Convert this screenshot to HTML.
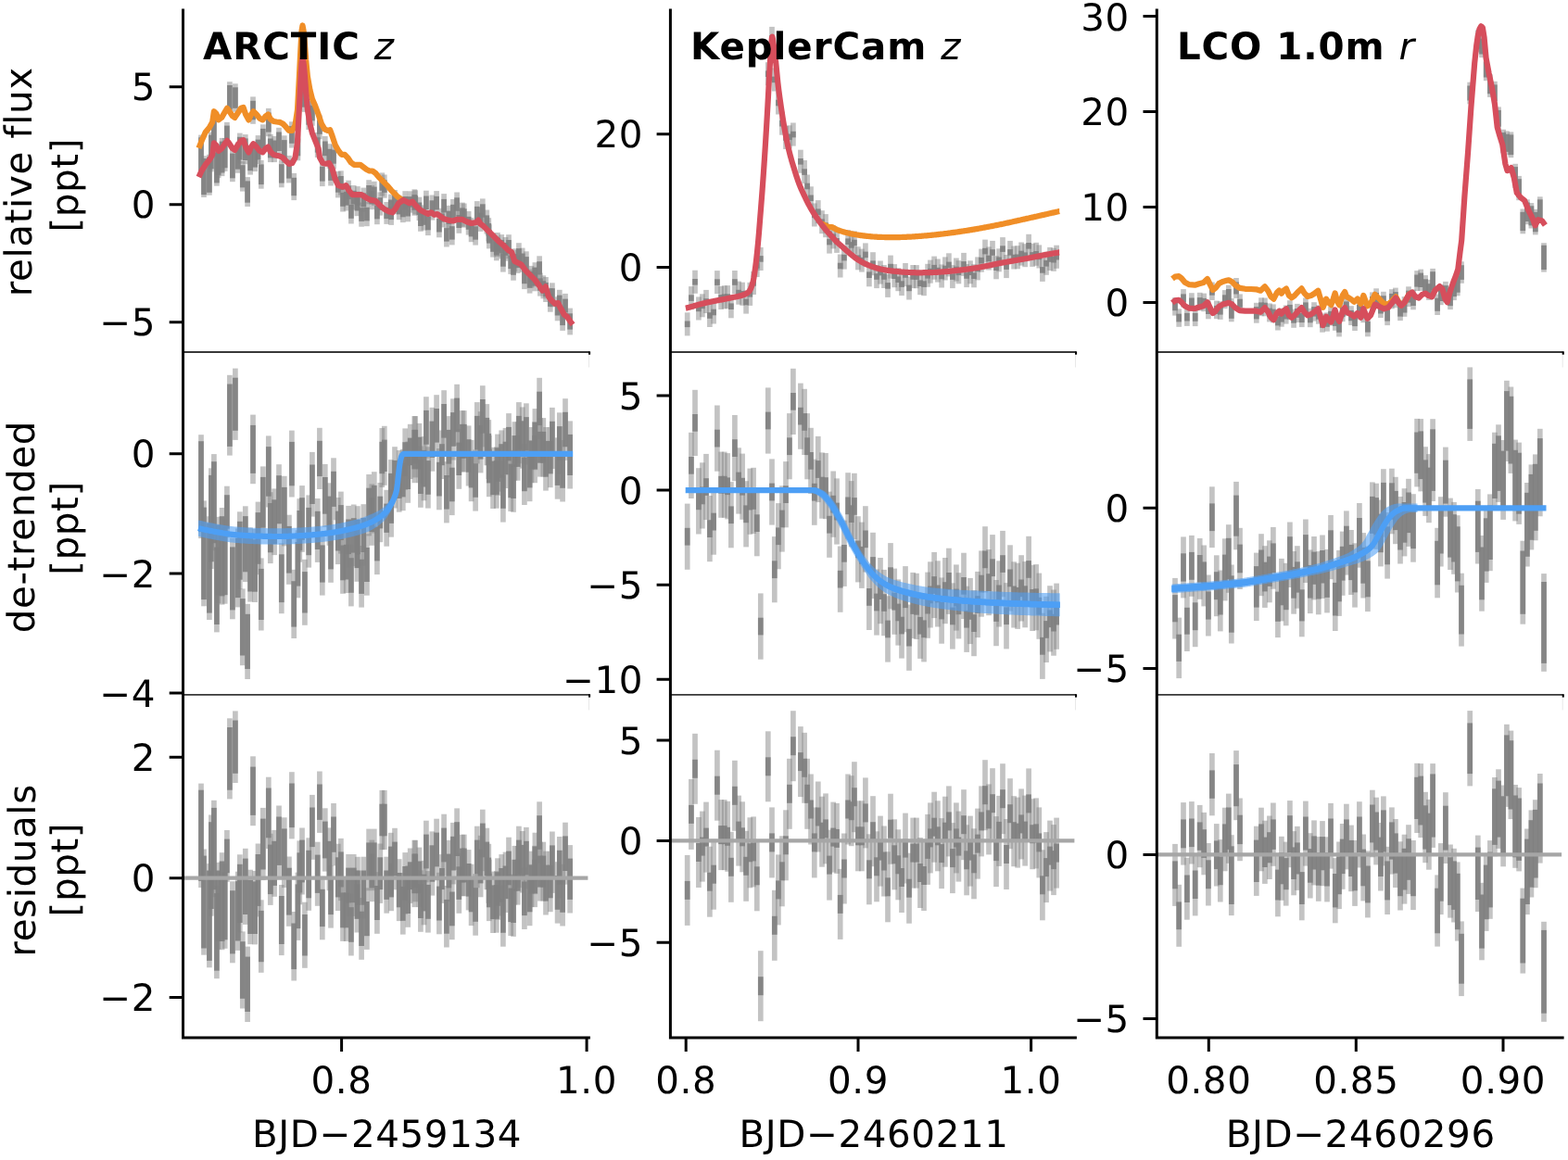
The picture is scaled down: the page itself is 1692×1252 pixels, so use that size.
<!DOCTYPE html>
<html lang="en"><head><meta charset="utf-8"><title>Light curves</title>
<style>html,body{margin:0;padding:0;background:#fff}svg{display:block}text{font-family:"DejaVu Sans","Liberation Sans",sans-serif;font-size:40.4px;fill:#000;font-variant-ligatures:none;font-feature-settings:"liga" 0,"clig" 0;text-rendering:geometricPrecision;letter-spacing:0.6px}.b{font-weight:bold}.i{font-style:italic}.sp{stroke:#000;stroke-width:3;fill:none;stroke-linecap:butt}.th{stroke:#383838;stroke-width:1.8;fill:none}.lt path{stroke:#808080;stroke-opacity:.47;stroke-width:5.7;fill:none}.dk path{stroke:#808080;stroke-opacity:.92;stroke-width:5.7;fill:none}.zl{stroke:#a6a6a6;stroke-width:4.3;fill:none}.rd{stroke:#d64e5c;stroke-width:6.2;fill:none;stroke-linejoin:round;stroke-linecap:butt}.or{stroke:#f08e27;stroke-width:6.2;fill:none;stroke-linejoin:round;stroke-linecap:butt}.bl{stroke:#4d9ff5;stroke-width:6.2;fill:none;stroke-linejoin:round;stroke-linecap:butt}.bd{fill:#4d9ff5;fill-opacity:.58;stroke:none}.bo{fill:#4d9ff5;stroke:none}</style></head><body>
<svg width="1692" height="1252" viewBox="0 0 1692 1252">
<rect width="1692" height="1252" fill="#fff"/>
<g>
<g class="lt"><path d="M217 145.6V189.6"/><path d="M220 168.2V213"/><path d="M225.9 166.7V210.7"/><path d="M227.9 142.6V185.4"/><path d="M230.9 121.5V162.5"/><path d="M233.9 161.2V200.7"/><path d="M235.6 155.4V192.2"/><path d="M239.6 148.9V190.1"/><path d="M242.7 149V184.9"/><path d="M244.9 131.9V153.8"/><path d="M247.9 88.2V122.3"/><path d="M250.9 161.7V196.2"/><path d="M253.9 90.3V120.8"/><path d="M256.8 153.4V186.8"/><path d="M258.8 143.6V176.7"/><path d="M261.8 174V206.6"/><path d="M264.8 145.1V177.3"/><path d="M267.1 191.1V223"/><path d="M270.1 157V188.6"/><path d="M273 104.4V133.8"/><path d="M275.1 153.9V185.1"/><path d="M278.5 146.1V177.1"/><path d="M281.8 172.9V203.7"/><path d="M283.8 134.3V165"/><path d="M289.8 116.9V147.2"/><path d="M291.8 144.8V175.1"/><path d="M296.1 146.9V175.1"/><path d="M301 137.8V167.7"/><path d="M303.8 172.5V202.3"/><path d="M306.8 146.3V176.1"/><path d="M311.9 167.9V197.4"/><path d="M314.9 131.3V159.6"/><path d="M317.2 186.9V216.1"/><path d="M321.4 144.5V173.3"/><path d="M323.3 93.3V120.3"/><path d="M326 44.3V72.5"/><path d="M328.9 93V120.9"/><path d="M333.2 109.2V140"/><path d="M336.9 108.3V135.8"/><path d="M342.7 142.9V170"/><path d="M344.9 124.3V150.3"/><path d="M347.8 174.2V201.1"/><path d="M350.8 147V173.7"/><path d="M355.4 155.2V181.8"/><path d="M357 174V200.5"/><path d="M360 155.9V182.4"/><path d="M364.8 185V213.4"/><path d="M367.9 184.3V210.6"/><path d="M370 202.2V228.5"/><path d="M373.7 201.1V227.5"/><path d="M376.1 194.7V221"/><path d="M378.9 215.3V241.5"/><path d="M381.7 200V226.3"/><path d="M385.4 207V233.2"/><path d="M385.9 201.1V227.4"/><path d="M390.1 218.5V244.7"/><path d="M392.3 202.6V228.7"/><path d="M395.9 218V244.2"/><path d="M398.1 194.2V220.3"/><path d="M401.3 200V226.2"/><path d="M403.8 195.8V221.9"/><path d="M406.9 216.1V242.2"/><path d="M410.3 207.4V232.6"/><path d="M412.3 186.4V211.6"/><path d="M414.8 188.5V213.7"/><path d="M417.2 218V241.9"/><path d="M421.8 209.7V235.8"/><path d="M422.1 216.8V242.9"/><path d="M426 205V231.2"/><path d="M430.7 210.9V237.2"/><path d="M434.8 214V240.1"/><path d="M437.2 206.2V232.3"/><path d="M440.2 213.2V239.3"/><path d="M442.7 206.3V229.6"/><path d="M447.3 204.3V232.7"/><path d="M448.2 205.3V231.5"/><path d="M452.4 212.7V238"/><path d="M453.9 223.7V249.8"/><path d="M457.5 221.4V248.6"/><path d="M459.9 205.7V231.8"/><path d="M461.9 228V254.1"/><path d="M466.4 210.5V237.6"/><path d="M471.1 206.1V232.2"/><path d="M473.9 230.2V256.3"/><path d="M476.9 224.7V245.4"/><path d="M479.1 209.1V235.2"/><path d="M481.9 240.4V266.5"/><path d="M484.4 221.8V247.8"/><path d="M487.8 238.4V264.4"/><path d="M488.9 214.9V241"/><path d="M493.1 207.5V233.5"/><path d="M495.3 226.2V251.8"/><path d="M498.9 218.6V244.7"/><path d="M500.8 219.5V245.6"/><path d="M505.6 228V253.6"/><path d="M508.6 235.1V261.2"/><path d="M513.1 238.5V264.6"/><path d="M514.8 217.1V243.1"/><path d="M518.6 223.8V249.9"/><path d="M520.8 214.4V240.5"/><path d="M525.3 226.5V252.6"/><path d="M527.3 235.2V260.4"/><path d="M527.8 242.4V268.4"/><path d="M532 251.6V277.6"/><path d="M535.8 255.3V281.3"/><path d="M537 251V277"/><path d="M541.2 253.1V279.2"/><path d="M542.9 267.5V293.6"/><path d="M545.5 256V281.7"/><path d="M549 253.2V279.2"/><path d="M551.2 269.9V295.9"/><path d="M554 276.6V302.7"/><path d="M555.4 268.3V293.3"/><path d="M558.7 269.9V294.9"/><path d="M559.9 262.2V288.3"/><path d="M563.7 267.6V293.7"/><path d="M565.9 286V312.1"/><path d="M567.9 271.3V297.3"/><path d="M571.6 290.6V316.6"/><path d="M573.4 286.9V310.6"/><path d="M577.1 288.2V314.3"/><path d="M577.4 283.2V309.2"/><path d="M582.1 276.3V302.4"/><path d="M582.9 294.6V319.6"/><path d="M586.3 297.3V322.3"/><path d="M589 299V326"/><path d="M593.8 311.1V336.7"/><path d="M595.9 305.3V331.4"/><path d="M601.6 320.3V346.3"/><path d="M603.8 312.8V338.9"/><path d="M607.1 330.7V356.9"/><path d="M610 316.9V343.2"/><path d="M615.1 332.6V361.4"/></g>
<g class="dk"><path d="M217 148.3V186.9"/><path d="M220 171V210.2"/><path d="M225.9 169.6V207.8"/><path d="M227.9 145.6V182.4"/><path d="M230.9 124.7V159.4"/><path d="M233.9 164.5V197.4"/><path d="M235.6 158.8V188.8"/><path d="M239.6 152.6V186.5"/><path d="M242.7 152.7V181.2"/><path d="M244.9 135.6V150"/><path d="M247.9 92V118.5"/><path d="M250.9 165.6V192.3"/><path d="M253.9 94.3V116.8"/><path d="M256.8 157.4V182.7"/><path d="M258.8 147.8V172.5"/><path d="M261.8 178.2V202.4"/><path d="M264.8 149.4V173"/><path d="M267.1 195.4V218.7"/><path d="M270.1 161.4V184.2"/><path d="M273 108.8V129.3"/><path d="M275.1 158.4V180.6"/><path d="M278.5 150.6V172.5"/><path d="M281.8 177.4V199.1"/><path d="M283.8 138.9V160.4"/><path d="M289.8 121.5V142.6"/><path d="M291.8 149.5V170.4"/><path d="M296.1 151.5V170.4"/><path d="M301 142.5V163"/><path d="M303.8 177.2V197.6"/><path d="M306.8 151.1V171.3"/><path d="M311.9 172.7V192.6"/><path d="M314.9 136.1V154.8"/><path d="M317.2 191.8V211.2"/><path d="M321.4 149.5V168.3"/><path d="M323.3 98.3V115.2"/><path d="M326 49.4V67.4"/><path d="M328.9 98.2V115.7"/><path d="M333.2 114.5V134.7"/><path d="M336.9 113.7V130.4"/><path d="M342.7 148.3V164.6"/><path d="M344.9 129.8V144.8"/><path d="M347.8 179.8V195.6"/><path d="M350.8 152.5V168.2"/><path d="M355.4 160.8V176.1"/><path d="M357 179.7V194.9"/><path d="M360 161.6V176.7"/><path d="M364.8 190.8V207.7"/><path d="M367.9 190V204.9"/><path d="M370 207.9V222.8"/><path d="M373.7 206.9V221.7"/><path d="M376.1 200.4V215.3"/><path d="M378.9 221V235.8"/><path d="M381.7 205.8V220.5"/><path d="M385.4 212.7V227.4"/><path d="M385.9 206.9V221.6"/><path d="M390.1 224.3V238.9"/><path d="M392.3 208.4V223"/><path d="M395.9 223.8V238.4"/><path d="M398.1 200V214.5"/><path d="M401.3 205.9V220.4"/><path d="M403.8 201.6V216.1"/><path d="M406.9 221.9V236.4"/><path d="M410.3 213.2V226.8"/><path d="M412.3 192.2V205.8"/><path d="M414.8 194.3V207.9"/><path d="M417.2 223.8V236.1"/><path d="M421.8 215.5V230"/><path d="M422.1 222.6V237.1"/><path d="M426 210.9V225.3"/><path d="M430.7 216.7V231.4"/><path d="M434.8 219.8V234.3"/><path d="M437.2 212V226.5"/><path d="M440.2 219V233.5"/><path d="M442.7 212.1V223.7"/><path d="M447.3 210.1V226.8"/><path d="M448.2 211.2V225.6"/><path d="M452.4 218.5V232.1"/><path d="M453.9 229.5V244"/><path d="M457.5 227.2V242.8"/><path d="M459.9 211.5V226"/><path d="M461.9 233.8V248.3"/><path d="M466.4 216.3V231.8"/><path d="M471.1 211.9V226.4"/><path d="M473.9 236V250.5"/><path d="M476.9 230.6V239.6"/><path d="M479.1 214.9V229.4"/><path d="M481.9 246.2V260.6"/><path d="M484.4 227.6V242"/><path d="M487.8 244.2V258.6"/><path d="M488.9 220.8V235.2"/><path d="M493.1 213.3V227.7"/><path d="M495.3 232V246"/><path d="M498.9 224.4V238.8"/><path d="M500.8 225.3V239.8"/><path d="M505.6 233.8V247.8"/><path d="M508.6 241V255.4"/><path d="M513.1 244.3V258.7"/><path d="M514.8 222.9V237.3"/><path d="M518.6 229.7V244.1"/><path d="M520.8 220.3V234.7"/><path d="M525.3 232.4V246.8"/><path d="M527.3 241V254.6"/><path d="M527.8 248.2V262.6"/><path d="M532 257.4V271.8"/><path d="M535.8 261.1V275.5"/><path d="M537 256.8V271.2"/><path d="M541.2 258.9V273.3"/><path d="M542.9 273.3V287.7"/><path d="M545.5 261.9V275.8"/><path d="M549 259V273.4"/><path d="M551.2 275.7V290.1"/><path d="M554 282.5V296.8"/><path d="M555.4 274.1V287.4"/><path d="M558.7 275.8V289.1"/><path d="M559.9 268.1V282.4"/><path d="M563.7 273.5V287.8"/><path d="M565.9 291.9V306.2"/><path d="M567.9 277.1V291.5"/><path d="M571.6 296.4V310.8"/><path d="M573.4 292.8V304.8"/><path d="M577.1 294.1V308.4"/><path d="M577.4 289V303.4"/><path d="M582.1 282.2V296.5"/><path d="M582.9 300.4V313.8"/><path d="M586.3 303.2V316.5"/><path d="M589 304.9V320.1"/><path d="M593.8 316.9V330.9"/><path d="M595.9 311.2V325.5"/><path d="M601.6 326.1V340.5"/><path d="M603.8 318.6V333.1"/><path d="M607.1 336.5V351.1"/><path d="M610 322.6V337.4"/><path d="M615.1 338.3V355.6"/></g>
<path class="or" d="M214.5 159.9L218.4 150.2L221.7 142.7L225.9 137.7L229.2 131.9L230.9 120.2L233.4 122.7L235.9 129.4L239.2 126.9L242.6 121L245.1 116.8L247.6 120.2L250.9 125.2L253.4 126.9L256.8 121.8L260.1 116.8L262.6 116L265.1 123.5L268.4 129.4L271 123.5L273.5 120.2L276.8 123.5L280.1 127.7L283.5 129.4L286.8 125.2L289.3 123.5L291.8 128.5L295.2 131L298.5 131.5L301.8 131.9L305.2 133.5L308.5 136.9L311.9 141L315.2 141L318.5 135.2L321 118.5L322.7 86.8L324.4 53.4L325.5 33.4L326.5 27.5L327.6 33.4L328.6 43.4L330.2 65.1L331.9 82.6L334.4 96.8L336.9 106.8L340.2 114.3L343.6 123.5L346.9 133.5L350.3 139.4L353.6 141L356.1 140.2L358.6 146.9L361.9 156.9L365.3 162.8L368.6 166.9L372 166.9L375.3 170.3L378.6 175.3L382 177.8L385.3 177.8L388.7 177.8L392 180.3L395.3 182.8L398.7 184.5L402 184.5L405.4 187L408.7 191.1L413.7 196.1L418.7 201.2L422.1 205.3L425.4 208.7L428.7 212L432.1 214.5L436.2 217.9"/>
<path class="rd" d="M214.5 191.1L217.5 184.5L221.7 177.8L225.9 172.8L229.2 166.9L230.9 154.4L233.4 156.9L235.9 162.8L239.2 160.2L242.6 155.2L245.1 151.9L247.6 155.2L250.9 160.2L253.4 161.9L256.8 156.1L260.1 151.9L262.6 151.1L265.1 158.6L268.4 164.4L271 158.6L273.5 155.2L276.8 158.6L280.1 162.8L283.5 164.4L286.8 160.2L289.3 158.6L291.8 163.6L295.2 166.9L298.5 167.8L301.8 168.6L305.2 170.3L308.5 173.6L311.9 176.9L315.2 176.1L318.5 170.3L321 153.6L322.7 120.2L324.4 86.8L325.5 68.4L326.5 62.6L327.6 68.4L328.6 78.4L330.2 100.1L331.9 118.5L334.4 133.5L336.9 143.6L340.2 151.9L343.6 160.2L345 170L348.3 175.9L351.7 176.7L355 175.9L358.4 181.7L361.7 193.4L365 200.1L370 201.7L373.4 200.1L376.7 205.9L380.1 210.1L385.1 210.1L390.1 210.1L395.1 213.4L400.1 215.9L405.1 216.8L410.1 221.8L415.1 226L420.1 228.5L423.5 229.3L426.8 225.1L430.2 219.3L435.2 215.9L438.5 217.6L441.8 219.3L445.2 217.6L448.5 221.8L453.5 226.8L458.5 229.3L461.9 231L465.2 229.3L468.6 231.8L471.9 231L475.2 233.5L478.6 236L483.6 237.6L488.6 238.5L493.6 236.8L498.6 236.8L503.6 239.3L508.6 241L513.6 240.1L516.1 237.6L518.6 241.8L522 244.3L525.3 247.7L528.7 251L533.7 256L538.7 261L543.7 265.2L548.7 270.2L552 271.9L555.4 281.9L558.7 283.6L562.1 285.2L567.1 291.9L572.1 296.9L577.1 301.9L582.1 308.6L585.4 313.6L588.8 309.4L592.1 320.3L595.4 324.5L598.8 327.8L602.1 327L605.5 333.6L608.8 339.5L612.1 342L615.5 347L618 350.3"/>
<g class="lt"><path d="M217 469.2V581.1"/><path d="M220 540.4V654.3"/><path d="M225.9 557.2V669"/><path d="M227.9 505.3V614"/><path d="M230.9 490.1V594.3"/><path d="M233.9 582.2V682.4"/><path d="M235.6 557.8V651.3"/><path d="M239.6 548V652.6"/><path d="M242.7 560.4V651.7"/><path d="M244.9 524.7V580.2"/><path d="M247.9 404.8V491.6"/><path d="M250.9 580.5V668.3"/><path d="M253.9 397.6V474.9"/><path d="M256.8 570.5V655.4"/><path d="M258.8 552.3V636.2"/><path d="M261.8 635.4V718.2"/><path d="M264.8 546.3V628.1"/><path d="M267.1 651.8V733"/><path d="M270.1 569.4V649.6"/><path d="M273 447.6V522.2"/><path d="M275.1 571V650"/><path d="M278.5 541.6V620.2"/><path d="M281.8 602.4V680.5"/><path d="M283.8 503.4V581.2"/><path d="M289.8 470.4V547.5"/><path d="M291.8 531.2V608.1"/><path d="M296.1 527.4V599.1"/><path d="M301 501.2V577.3"/><path d="M303.8 586.3V662.2"/><path d="M306.8 513.8V589.4"/><path d="M311.9 555.7V630.8"/><path d="M314.9 464.6V536.5"/><path d="M317.2 614.8V689"/><path d="M321.4 572.3V645.3"/><path d="M323.3 538.2V606.7"/><path d="M326 524.1V595.8"/><path d="M328.9 603.8V674.8"/><path d="M333.2 534.4V612.6"/><path d="M336.9 487.9V557.6"/><path d="M342.7 538V606.9"/><path d="M344.9 461.8V528"/><path d="M347.8 574.3V642.6"/><path d="M350.8 500.9V568.9"/><path d="M355.4 521.3V588.8"/><path d="M357 561.4V628.8"/><path d="M360 494.3V561.4"/><path d="M364.8 537V609.1"/><path d="M367.9 530.6V597.6"/><path d="M370 573.9V640.8"/><path d="M373.7 573.2V640.1"/><path d="M376.1 545.9V612.7"/><path d="M378.9 587.6V654.4"/><path d="M381.7 544.5V611.2"/><path d="M385.4 561.2V627.8"/><path d="M385.9 546.2V612.8"/><path d="M390.1 589V655.6"/><path d="M392.3 544.2V610.7"/><path d="M395.9 576.3V642.7"/><path d="M398.1 512V578.4"/><path d="M401.3 522.4V588.8"/><path d="M403.8 509.2V575.5"/><path d="M406.9 553.8V620.1"/><path d="M410.3 521V585.2"/><path d="M412.3 462V526"/><path d="M414.8 459.8V523.8"/><path d="M417.2 528.8V589.7"/><path d="M421.8 496.1V562.5"/><path d="M422.1 513.4V579.7"/><path d="M426 482.2V548.5"/><path d="M430.7 486V552.7"/><path d="M434.8 484.8V551.2"/><path d="M437.2 462.4V528.8"/><path d="M440.2 476.5V542.8"/><path d="M442.7 457.8V517"/><path d="M447.3 449.1V521.2"/><path d="M448.2 449.1V515.4"/><path d="M452.4 456.9V521.2"/><path d="M453.9 481.5V547.8"/><path d="M457.5 471.1V540.3"/><path d="M459.9 428.2V494.5"/><path d="M461.9 482.3V548.6"/><path d="M466.4 439.8V508.7"/><path d="M471.1 426.2V492.4"/><path d="M473.9 484V550.3"/><path d="M476.9 464.4V517"/><path d="M479.1 421.2V487.4"/><path d="M481.9 498.2V564.4"/><path d="M484.4 449.1V515.4"/><path d="M487.8 489.9V556.1"/><path d="M488.9 430.3V496.6"/><path d="M493.1 414.8V481.1"/><path d="M495.3 462.8V527.8"/><path d="M498.9 443.1V509.4"/><path d="M500.8 443.1V509.4"/><path d="M505.6 459.4V524.5"/><path d="M508.6 474.9V541.2"/><path d="M513.1 485.4V551.6"/><path d="M514.8 434.1V500.4"/><path d="M518.6 444.2V510.4"/><path d="M520.8 416.2V482.4"/><path d="M525.3 436.1V502.3"/><path d="M527.3 453.1V517"/><path d="M527.8 470V536.2"/><path d="M532 482.8V549"/><path d="M535.8 482.5V548.7"/><path d="M537 468.6V534.8"/><path d="M541.2 464.4V530.6"/><path d="M542.9 497.4V563.6"/><path d="M545.5 461.9V527"/><path d="M549 446.1V512.3"/><path d="M551.2 485.8V552"/><path d="M554 486.6V552.8"/><path d="M555.4 455.2V518.7"/><path d="M558.7 455.2V518.7"/><path d="M559.9 434.1V500.3"/><path d="M563.7 439.4V505.6"/><path d="M565.9 478.8V545"/><path d="M567.9 435.3V501.4"/><path d="M571.6 475V541.2"/><path d="M573.4 461V521.2"/><path d="M577.1 455.1V521.2"/><path d="M577.4 441.1V507.2"/><path d="M582.1 407.8V474"/><path d="M582.9 451.1V514.6"/><path d="M586.3 451.1V514.6"/><path d="M589 461V529.6"/><path d="M593.8 461V526.2"/><path d="M595.9 439.9V506"/><path d="M601.6 472.4V538.7"/><path d="M603.8 445.3V511.7"/><path d="M607.1 475V541.5"/><path d="M610 430.2V496.9"/><path d="M615.1 454.4V527.5"/></g>
<g class="dk"><path d="M217 476.2V574.1"/><path d="M220 547.6V647.1"/><path d="M225.9 564.6V661.6"/><path d="M227.9 512.9V606.3"/><path d="M230.9 498.2V586.2"/><path d="M233.9 590.6V674"/><path d="M235.6 566.5V642.7"/><path d="M239.6 557.2V643.4"/><path d="M242.7 569.8V642.2"/><path d="M244.9 534.2V570.7"/><path d="M247.9 414.5V481.9"/><path d="M250.9 590.4V658.4"/><path d="M253.9 407.7V464.8"/><path d="M256.8 580.9V645.1"/><path d="M258.8 562.8V625.7"/><path d="M261.8 646.1V707.5"/><path d="M264.8 557.1V617.3"/><path d="M267.1 662.8V722"/><path d="M270.1 580.5V638.5"/><path d="M273 458.9V510.9"/><path d="M275.1 582.3V638.7"/><path d="M278.5 553.1V608.8"/><path d="M281.8 613.9V669"/><path d="M283.8 514.9V569.7"/><path d="M289.8 482.1V535.7"/><path d="M291.8 543V596.3"/><path d="M296.1 539.3V587.2"/><path d="M301 513.2V565.3"/><path d="M303.8 598.3V650.1"/><path d="M306.8 525.9V577.3"/><path d="M311.9 567.9V618.6"/><path d="M314.9 476.9V524.3"/><path d="M317.2 627.2V676.6"/><path d="M321.4 585V632.6"/><path d="M323.3 551V593.9"/><path d="M326 537.2V582.8"/><path d="M328.9 617.1V661.5"/><path d="M333.2 547.9V599.2"/><path d="M336.9 501.5V544"/><path d="M342.7 551.8V593"/><path d="M344.9 475.8V514.1"/><path d="M347.8 588.4V628.6"/><path d="M350.8 515V554.7"/><path d="M355.4 535.6V574.5"/><path d="M357 575.8V614.4"/><path d="M360 508.8V546.9"/><path d="M364.8 551.6V594.5"/><path d="M367.9 545.1V583"/><path d="M370 588.5V626.3"/><path d="M373.7 587.8V625.5"/><path d="M376.1 560.5V598.1"/><path d="M378.9 602.2V639.8"/><path d="M381.7 559.2V596.6"/><path d="M385.4 575.8V613.1"/><path d="M385.9 560.9V598.2"/><path d="M390.1 603.7V640.9"/><path d="M392.3 558.9V596"/><path d="M395.9 591V628"/><path d="M398.1 526.7V563.6"/><path d="M401.3 537.2V574"/><path d="M403.8 523.9V560.8"/><path d="M406.9 568.5V605.4"/><path d="M410.3 535.7V570.4"/><path d="M412.3 476.8V511.2"/><path d="M414.8 474.6V509"/><path d="M417.2 543.6V574.9"/><path d="M421.8 510.9V547.7"/><path d="M422.1 528.1V564.9"/><path d="M426 496.9V533.7"/><path d="M430.7 500.8V538"/><path d="M434.8 499.6V536.4"/><path d="M437.2 477.2V514"/><path d="M440.2 491.3V528"/><path d="M442.7 472.6V502.2"/><path d="M447.3 463.9V506.4"/><path d="M448.2 463.9V500.7"/><path d="M452.4 471.7V506.4"/><path d="M453.9 496.3V533"/><path d="M457.5 485.9V525.5"/><path d="M459.9 442.9V479.7"/><path d="M461.9 497.1V533.8"/><path d="M466.4 454.6V493.9"/><path d="M471.1 441V477.6"/><path d="M473.9 498.8V535.5"/><path d="M476.9 479.2V502.2"/><path d="M479.1 436V472.6"/><path d="M481.9 513V549.6"/><path d="M484.4 463.9V500.6"/><path d="M487.8 504.7V541.3"/><path d="M488.9 445.1V481.8"/><path d="M493.1 429.6V466.3"/><path d="M495.3 477.6V513"/><path d="M498.9 457.9V494.6"/><path d="M500.8 457.9V494.6"/><path d="M505.6 474.2V509.7"/><path d="M508.6 489.7V526.4"/><path d="M513.1 500.2V536.8"/><path d="M514.8 448.9V485.5"/><path d="M518.6 459V495.6"/><path d="M520.8 431V467.6"/><path d="M525.3 450.9V487.5"/><path d="M527.3 467.9V502.2"/><path d="M527.8 484.8V521.4"/><path d="M532 497.6V534.2"/><path d="M535.8 497.3V533.8"/><path d="M537 483.4V519.9"/><path d="M541.2 479.2V515.8"/><path d="M542.9 512.3V548.8"/><path d="M545.5 476.7V512.2"/><path d="M549 460.9V497.4"/><path d="M551.2 500.6V537.2"/><path d="M554 501.5V538"/><path d="M555.4 470.1V503.9"/><path d="M558.7 470.1V503.9"/><path d="M559.9 448.9V485.4"/><path d="M563.7 454.3V490.8"/><path d="M565.9 493.7V530.2"/><path d="M567.9 450.1V486.6"/><path d="M571.6 489.9V526.4"/><path d="M573.4 475.9V506.4"/><path d="M577.1 469.9V506.4"/><path d="M577.4 455.9V492.4"/><path d="M582.1 422.7V459.1"/><path d="M582.9 465.9V499.7"/><path d="M586.3 465.9V499.7"/><path d="M589 475.9V514.7"/><path d="M593.8 475.9V511.4"/><path d="M595.9 454.8V491.2"/><path d="M601.6 487.3V523.9"/><path d="M603.8 460.1V496.9"/><path d="M607.1 489.7V526.8"/><path d="M610 444.8V482.3"/><path d="M615.1 468.9V513"/></g>
<path class="bd" d="M214 561.4L215 561.7L216 561.9L217 562.1L218 562.3L219 562.6L220 562.8L221 563L222 563.2L223 563.4L224 563.6L225 563.8L226 564L227 564.2L228 564.4L229 564.6L230 564.8L231 565L232 565.2L233 565.4L234 565.6L235 565.7L236 565.9L237 566.1L238 566.3L239 566.4L240 566.6L241 566.8L242 566.9L243 567.1L244 567.2L245 567.4L246 567.6L247 567.7L248 567.8L249 568L250 568.1L251 568.2L252 568.3L253 568.4L254 568.5L255 568.6L256 568.6L257 568.7L258 568.8L259 568.9L260 569L261 569L262 569.1L263 569.2L264 569.2L265 569.3L266 569.4L267 569.4L268 569.5L269 569.5L270 569.6L271 569.6L272 569.7L273 569.7L274 569.8L275 569.8L276 569.8L277 569.9L278 569.9L279 569.9L280 570L281 570L282 570L283 570L284 570.1L285 570.1L286 570.1L287 570.1L288 570.2L289 570.2L290 570.2L291 570.2L292 570.2L293 570.2L294 570.3L295 570.3L296 570.3L297 570.3L298 570.3L299 570.3L300 570.3L301 570.3L302 570.3L303 570.3L304 570.3L305 570.3L306 570.2L307 570.2L308 570.2L309 570.1L310 570.1L311 570.1L312 570L313 570L314 570L315 569.9L316 569.9L317 569.8L318 569.8L319 569.7L320 569.7L321 569.6L322 569.6L323 569.5L324 569.4L325 569.4L326 569.3L327 569.3L328 569.2L329 569.2L330 569.1L331 569L332 569L333 568.9L334 568.8L335 568.8L336 568.7L337 568.6L338 568.5L339 568.4L340 568.3L341 568.2L342 568.1L343 568L344 567.9L345 567.8L346 567.7L347 567.6L348 567.5L349 567.4L350 567.3L351 567.1L352 567L353 566.9L354 566.8L355 566.6L356 566.5L357 566.4L358 566.2L359 566.1L360 565.9L361 565.8L362 565.6L363 565.4L364 565.2L365 565.1L366 564.9L367 564.7L368 564.5L369 564.3L370 564.1L371 563.9L372 563.6L373 563.4L374 563.2L375 563L376 562.7L377 562.5L378 562.3L379 562L380 561.8L381 561.5L382 561.3L383 561L384 560.8L385 560.5L386 560.2L387 560L388 559.7L389 559.4L390 559L391 558.7L392 558.4L393 558L394 557.7L395 557.3L396 556.9L397 556.5L398 556.1L399 555.6L400 555.2L401 554.8L402 554.4L403 553.9L404 553.5L405 553L406 552.5L407 552L408 551.5L409 550.9L410 550.3L411 549.7L412 549L413 548.2L414 547.4L415 546.6L416 545.6L417 544.6L418 543.4L419 542.2L420 540.7L421 539.4L422 537.9L423 536.3L424 534.5L425 532.5L426 530.2L427 527.7L428 524.1L429 517.1L430 507.8L431 499.4L432 493.3L433 489.5L434 487.6L435 487L436 486.8L436 492.8L435 493.5L434 494.6L433 497L432 501.3L431 507.9L430 516.8L429 526.6L428 534.1L427 538.2L426 541.2L425 544L424 546.5L423 548.8L422 550.9L421 552.9L420 554.7L419 556.3L418 557.8L417 559.1L416 560.3L415 561.4L414 562.5L413 563.4L412 564.3L411 565.2L410 566L409 566.8L408 567.5L407 568.2L406 568.9L405 569.6L404 570.2L403 570.8L402 571.4L401 572L400 572.6L399 573L398 573.5L397 573.9L396 574.3L395 574.7L394 575.1L393 575.4L392 575.8L391 576.1L390 576.4L389 576.8L388 577.1L387 577.4L386 577.6L385 577.9L384 578.2L383 578.4L382 578.7L381 578.9L380 579.2L379 579.4L378 579.7L377 579.9L376 580.1L375 580.4L374 580.6L373 580.8L372 581L371 581.3L370 581.5L369 581.7L368 581.9L367 582.1L366 582.3L365 582.5L364 582.6L363 582.8L362 583L361 583.2L360 583.3L359 583.5L358 583.6L357 583.8L356 583.9L355 584L354 584.2L353 584.3L352 584.4L351 584.5L350 584.7L349 584.8L348 584.9L347 585L346 585.1L345 585.2L344 585.3L343 585.4L342 585.5L341 585.6L340 585.7L339 585.8L338 585.9L337 586L336 586.1L335 586.2L334 586.2L333 586.3L332 586.4L331 586.4L330 586.5L329 586.6L328 586.6L327 586.7L326 586.7L325 586.8L324 586.8L323 586.9L322 587L321 587L320 587.1L319 587.1L318 587.2L317 587.2L316 587.3L315 587.3L314 587.4L313 587.4L312 587.4L311 587.5L310 587.5L309 587.5L308 587.6L307 587.6L306 587.6L305 587.7L304 587.7L303 587.7L302 587.7L301 587.7L300 587.7L299 587.7L298 587.7L297 587.7L296 587.7L295 587.7L294 587.7L293 587.6L292 587.6L291 587.6L290 587.6L289 587.6L288 587.6L287 587.5L286 587.5L285 587.5L284 587.5L283 587.4L282 587.4L281 587.4L280 587.4L279 587.3L278 587.3L277 587.3L276 587.2L275 587.2L274 587.2L273 587.1L272 587.1L271 587L270 587L269 586.9L268 586.9L267 586.8L266 586.8L265 586.7L264 586.6L263 586.6L262 586.5L261 586.4L260 586.4L259 586.3L258 586.2L257 586.1L256 586L255 586L254 585.9L253 585.8L252 585.7L251 585.6L250 585.5L249 585.4L248 585.2L247 585.1L246 585L245 584.8L244 584.6L243 584.5L242 584.3L241 584.2L240 584L239 583.8L238 583.7L237 583.5L236 583.3L235 583.1L234 583L233 582.8L232 582.6L231 582.4L230 582.2L229 582L228 581.8L227 581.6L226 581.4L225 581.2L224 581L223 580.8L222 580.6L221 580.4L220 580.2L219 580L218 579.7L217 579.5L216 579.3L215 579.1L214 578.8Z"/>
<path class="bl" d="M214 570.1L215 570.4L216 570.6L217 570.8L218 571L219 571.3L220 571.5L221 571.7L222 571.9L223 572.1L224 572.3L225 572.5L226 572.7L227 572.9L228 573.1L229 573.3L230 573.5L231 573.7L232 573.9L233 574.1L234 574.3L235 574.4L236 574.6L237 574.8L238 575L239 575.1L240 575.3L241 575.5L242 575.6L243 575.8L244 575.9L245 576.1L246 576.3L247 576.4L248 576.5L249 576.7L250 576.8L251 576.9L252 577L253 577.1L254 577.2L255 577.3L256 577.3L257 577.4L258 577.5L259 577.6L260 577.7L261 577.7L262 577.8L263 577.9L264 577.9L265 578L266 578.1L267 578.1L268 578.2L269 578.2L270 578.3L271 578.3L272 578.4L273 578.4L274 578.5L275 578.5L276 578.5L277 578.6L278 578.6L279 578.6L280 578.7L281 578.7L282 578.7L283 578.7L284 578.8L285 578.8L286 578.8L287 578.8L288 578.9L289 578.9L290 578.9L291 578.9L292 578.9L293 578.9L294 579L295 579L296 579L297 579L298 579L299 579L300 579L301 579L302 579L303 579L304 579L305 579L306 578.9L307 578.9L308 578.9L309 578.8L310 578.8L311 578.8L312 578.7L313 578.7L314 578.7L315 578.6L316 578.6L317 578.5L318 578.5L319 578.4L320 578.4L321 578.3L322 578.3L323 578.2L324 578.1L325 578.1L326 578L327 578L328 577.9L329 577.9L330 577.8L331 577.7L332 577.7L333 577.6L334 577.5L335 577.5L336 577.4L337 577.3L338 577.2L339 577.1L340 577L341 576.9L342 576.8L343 576.7L344 576.6L345 576.5L346 576.4L347 576.3L348 576.2L349 576.1L350 576L351 575.8L352 575.7L353 575.6L354 575.5L355 575.3L356 575.2L357 575.1L358 574.9L359 574.8L360 574.6L361 574.5L362 574.3L363 574.1L364 573.9L365 573.8L366 573.6L367 573.4L368 573.2L369 573L370 572.8L371 572.6L372 572.3L373 572.1L374 571.9L375 571.7L376 571.4L377 571.2L378 571L379 570.7L380 570.5L381 570.2L382 570L383 569.7L384 569.5L385 569.2L386 568.9L387 568.7L388 568.4L389 568.1L390 567.7L391 567.4L392 567.1L393 566.7L394 566.4L395 566L396 565.6L397 565.2L398 564.8L399 564.3L400 563.9L401 563.4L402 562.9L403 562.4L404 561.8L405 561.3L406 560.7L407 560.1L408 559.5L409 558.8L410 558.2L411 557.4L412 556.7L413 555.8L414 554.9L415 554L416 553L417 551.9L418 550.6L419 549.2L420 547.7L421 546.2L422 544.4L423 542.6L424 540.5L425 538.2L426 535.7L427 532.9L428 529.1L429 521.9L430 512.3L431 503.7L432 497.3L433 493.2L434 491.1L435 490.2L436 489.8L437 489.8L438 489.8L439 489.8L440 489.8L441 489.8L442 489.8L443 489.8L444 489.8L445 489.8L446 489.8L447 489.8L448 489.8L449 489.8L450 489.8L451 489.8L452 489.8L453 489.8L454 489.8L455 489.8L456 489.8L457 489.8L458 489.8L459 489.8L460 489.8L461 489.8L462 489.8L463 489.8L464 489.8L465 489.8L466 489.8L467 489.8L468 489.8L469 489.8L470 489.8L471 489.8L472 489.8L473 489.8L474 489.8L475 489.8L476 489.8L477 489.8L478 489.8L479 489.8L480 489.8L481 489.8L482 489.8L483 489.8L484 489.8L485 489.8L486 489.8L487 489.8L488 489.8L489 489.8L490 489.8L491 489.8L492 489.8L493 489.8L494 489.8L495 489.8L496 489.8L497 489.8L498 489.8L499 489.8L500 489.8L501 489.8L502 489.8L503 489.8L504 489.8L505 489.8L506 489.8L507 489.8L508 489.8L509 489.8L510 489.8L511 489.8L512 489.8L513 489.8L514 489.8L515 489.8L516 489.8L517 489.8L518 489.8L519 489.8L520 489.8L521 489.8L522 489.8L523 489.8L524 489.8L525 489.8L526 489.8L527 489.8L528 489.8L529 489.8L530 489.8L531 489.8L532 489.8L533 489.8L534 489.8L535 489.8L536 489.8L537 489.8L538 489.8L539 489.8L540 489.8L541 489.8L542 489.8L543 489.8L544 489.8L545 489.8L546 489.8L547 489.8L548 489.8L549 489.8L550 489.8L551 489.8L552 489.8L553 489.8L554 489.8L555 489.8L556 489.8L557 489.8L558 489.8L559 489.8L560 489.8L561 489.8L562 489.8L563 489.8L564 489.8L565 489.8L566 489.8L567 489.8L568 489.8L569 489.8L570 489.8L571 489.8L572 489.8L573 489.8L574 489.8L575 489.8L576 489.8L577 489.8L578 489.8L579 489.8L580 489.8L581 489.8L582 489.8L583 489.8L584 489.8L585 489.8L586 489.8L587 489.8L588 489.8L589 489.8L590 489.8L591 489.8L592 489.8L593 489.8L594 489.8L595 489.8L596 489.8L597 489.8L598 489.8L599 489.8L600 489.8L601 489.8L602 489.8L603 489.8L604 489.8L605 489.8L606 489.8L607 489.8L608 489.8L609 489.8L610 489.8L611 489.8L612 489.8L613 489.8L614 489.8L615 489.8L616 489.8L617 489.8L618 489.8L618.2 489.8"/>
<g class="lt"><path d="M217 845.6V958"/><path d="M220 916.5V1030.7"/><path d="M225.9 932.1V1044.3"/><path d="M227.9 879.5V988.7"/><path d="M230.9 863.8V968.3"/><path d="M233.9 955.6V1056.2"/><path d="M235.6 930.8V1024.7"/><path d="M239.6 920.2V1025.2"/><path d="M242.7 932.2V1023.8"/><path d="M244.9 896V951.8"/><path d="M247.9 775.3V862.4"/><path d="M250.9 951.2V1039.3"/><path d="M253.9 767.4V845"/><path d="M256.8 940.7V1025.9"/><path d="M258.8 922.3V1006.5"/><path d="M261.8 1005.4V1088.5"/><path d="M264.8 915.8V997.9"/><path d="M267.1 1021.6V1103"/><path d="M270.1 938.7V1019.2"/><path d="M273 816.3V891.2"/><path d="M275.1 940V1019.4"/><path d="M278.5 910.5V989.4"/><path d="M281.8 971.3V1049.8"/><path d="M283.8 871.9V950.1"/><path d="M289.8 838.7V916.1"/><path d="M291.8 899.7V976.9"/><path d="M296.1 895.9V967.8"/><path d="M301 869.5V945.9"/><path d="M303.8 955V1031.1"/><path d="M306.8 882.3V958.1"/><path d="M311.9 924.5V999.8"/><path d="M314.9 833.2V905.4"/><path d="M317.2 984V1058.5"/><path d="M321.4 941.6V1014.9"/><path d="M323.3 907.4V976.3"/><path d="M326 893.5V965.5"/><path d="M328.9 973.7V1044.8"/><path d="M333.2 904.3V982.8"/><path d="M336.9 857.9V927.8"/><path d="M342.7 908.7V977.8"/><path d="M344.9 832.5V898.9"/><path d="M347.8 945.7V1014.3"/><path d="M350.8 872.3V940.6"/><path d="M355.4 893.4V961.2"/><path d="M357 933.9V1001.6"/><path d="M360 867V934.4"/><path d="M364.8 910.7V983"/><path d="M367.9 904.9V972.1"/><path d="M370 948.8V1015.9"/><path d="M373.7 948.9V1015.9"/><path d="M376.1 922V989"/><path d="M378.9 964.5V1031.5"/><path d="M381.7 922V988.9"/><path d="M385.4 939.6V1006.5"/><path d="M385.9 924.8V991.6"/><path d="M390.1 969V1035.8"/><path d="M392.3 924.7V991.5"/><path d="M395.9 958.3V1024.9"/><path d="M398.1 894.6V961.3"/><path d="M401.3 906.6V973.2"/><path d="M403.8 894.6V961.2"/><path d="M406.9 941.2V1007.8"/><path d="M410.3 910.5V974.9"/><path d="M412.3 852.9V917.1"/><path d="M414.8 852.9V917.1"/><path d="M417.2 924.7V985.7"/><path d="M421.8 898.8V965.4"/><path d="M422.1 916.7V983.2"/><path d="M426 893.8V960.3"/><path d="M430.7 927.2V994.1"/><path d="M434.8 942.1V1008.6"/><path d="M437.2 920.1V986.7"/><path d="M440.2 934.2V1000.8"/><path d="M442.7 915.5V974.9"/><path d="M447.3 906.8V979.1"/><path d="M448.2 906.8V973.3"/><path d="M452.4 914.6V979.1"/><path d="M453.9 939.3V1005.8"/><path d="M457.5 928.8V998.3"/><path d="M459.9 885.7V952.3"/><path d="M461.9 940.1V1006.6"/><path d="M466.4 897.4V966.6"/><path d="M471.1 883.7V950.3"/><path d="M473.9 941.8V1008.3"/><path d="M476.9 922.1V974.9"/><path d="M479.1 878.7V945.2"/><path d="M481.9 956V1022.5"/><path d="M484.4 906.8V973.3"/><path d="M487.8 947.7V1014.2"/><path d="M488.9 887.9V954.4"/><path d="M493.1 872.4V938.9"/><path d="M495.3 920.5V985.8"/><path d="M498.9 900.8V967.2"/><path d="M500.8 900.7V967.2"/><path d="M505.6 917.1V982.4"/><path d="M508.6 932.7V999.1"/><path d="M513.1 943.2V1009.7"/><path d="M514.8 891.7V958.2"/><path d="M518.6 901.8V968.3"/><path d="M520.8 873.7V940.2"/><path d="M525.3 893.7V960.2"/><path d="M527.3 910.8V974.9"/><path d="M527.8 927.7V994.1"/><path d="M532 940.6V1007"/><path d="M535.8 940.2V1006.7"/><path d="M537 926.3V992.7"/><path d="M541.2 922.1V988.5"/><path d="M542.9 955.3V1021.7"/><path d="M545.5 919.6V985"/><path d="M549 903.7V970.2"/><path d="M551.2 943.6V1010"/><path d="M554 944.4V1010.9"/><path d="M555.4 912.9V976.6"/><path d="M558.7 912.9V976.6"/><path d="M559.9 891.7V958.1"/><path d="M563.7 897V963.5"/><path d="M565.9 936.6V1003"/><path d="M567.9 892.9V959.3"/><path d="M571.6 932.8V999.2"/><path d="M573.4 918.7V979.1"/><path d="M577.1 912.8V979.1"/><path d="M577.4 898.7V965.1"/><path d="M582.1 865.3V931.7"/><path d="M582.9 908.7V972.5"/><path d="M586.3 908.7V972.5"/><path d="M589 918.7V987.5"/><path d="M593.8 918.7V984.2"/><path d="M595.9 897.5V963.9"/><path d="M601.6 930.2V996.6"/><path d="M603.8 903V969.6"/><path d="M607.1 932.7V999.5"/><path d="M610 887.7V954.7"/><path d="M615.1 912.1V985.5"/></g>
<g class="dk"><path d="M217 852.7V950.9"/><path d="M220 923.6V1023.5"/><path d="M225.9 939.5V1036.9"/><path d="M227.9 887.2V981"/><path d="M230.9 871.9V960.2"/><path d="M233.9 964.1V1047.7"/><path d="M235.6 939.5V1016"/><path d="M239.6 929.5V1016"/><path d="M242.7 941.6V1014.3"/><path d="M244.9 905.6V942.2"/><path d="M247.9 785V852.7"/><path d="M250.9 961.2V1029.4"/><path d="M253.9 777.5V834.8"/><path d="M256.8 951.1V1015.5"/><path d="M258.8 932.8V996"/><path d="M261.8 1016.2V1077.8"/><path d="M264.8 926.6V987"/><path d="M267.1 1032.6V1092"/><path d="M270.1 949.8V1008"/><path d="M273 827.6V879.9"/><path d="M275.1 951.4V1008"/><path d="M278.5 922V977.9"/><path d="M281.8 982.9V1038.2"/><path d="M283.8 883.6V938.5"/><path d="M289.8 850.5V904.3"/><path d="M291.8 911.6V965.1"/><path d="M296.1 907.8V955.9"/><path d="M301 881.5V933.9"/><path d="M303.8 967V1019"/><path d="M306.8 894.4V946"/><path d="M311.9 936.7V987.6"/><path d="M314.9 845.5V893.1"/><path d="M317.2 996.5V1046.1"/><path d="M321.4 954.4V1002.1"/><path d="M323.3 920.3V963.4"/><path d="M326 906.6V952.4"/><path d="M328.9 987V1031.5"/><path d="M333.2 917.8V969.3"/><path d="M336.9 871.5V914.1"/><path d="M342.7 922.6V963.9"/><path d="M344.9 846.5V884.9"/><path d="M347.8 959.8V1000.1"/><path d="M350.8 886.6V926.4"/><path d="M355.4 907.8V946.8"/><path d="M357 948.3V987.1"/><path d="M360 881.5V919.8"/><path d="M364.8 925.3V968.4"/><path d="M367.9 919.4V957.5"/><path d="M370 963.4V1001.3"/><path d="M373.7 963.5V1001.3"/><path d="M376.1 936.6V974.4"/><path d="M378.9 979.2V1016.8"/><path d="M381.7 936.6V974.2"/><path d="M385.4 954.3V991.8"/><path d="M385.9 939.5V976.9"/><path d="M390.1 983.7V1021"/><path d="M392.3 939.5V976.7"/><path d="M395.9 973V1010.2"/><path d="M398.1 909.4V946.5"/><path d="M401.3 921.4V958.4"/><path d="M403.8 909.4V946.4"/><path d="M406.9 956V993"/><path d="M410.3 925.3V960.1"/><path d="M412.3 867.7V902.3"/><path d="M414.8 867.7V902.3"/><path d="M417.2 939.5V970.9"/><path d="M421.8 913.6V950.5"/><path d="M422.1 931.5V968.4"/><path d="M426 908.6V945.5"/><path d="M430.7 942V979.3"/><path d="M434.8 956.9V993.8"/><path d="M437.2 935V971.9"/><path d="M440.2 949.1V986"/><path d="M442.7 930.3V960.1"/><path d="M447.3 921.6V964.2"/><path d="M448.2 921.6V958.5"/><path d="M452.4 929.5V964.2"/><path d="M453.9 954.1V991"/><path d="M457.5 943.7V983.4"/><path d="M459.9 900.6V937.4"/><path d="M461.9 954.9V991.8"/><path d="M466.4 912.3V951.7"/><path d="M471.1 898.6V935.4"/><path d="M473.9 956.6V993.5"/><path d="M476.9 937V960.1"/><path d="M479.1 893.6V930.4"/><path d="M481.9 970.9V1007.7"/><path d="M484.4 921.6V958.4"/><path d="M487.8 962.5V999.3"/><path d="M488.9 902.8V939.5"/><path d="M493.1 887.2V924"/><path d="M495.3 935.3V970.9"/><path d="M498.9 915.6V952.4"/><path d="M500.8 915.6V952.4"/><path d="M505.6 932V967.6"/><path d="M508.6 947.5V984.3"/><path d="M513.1 958.1V994.8"/><path d="M514.8 906.6V943.3"/><path d="M518.6 916.7V953.4"/><path d="M520.8 888.6V925.3"/><path d="M525.3 908.6V945.3"/><path d="M527.3 925.6V960.1"/><path d="M527.8 942.6V979.3"/><path d="M532 955.4V992.1"/><path d="M535.8 955.1V991.8"/><path d="M537 941.2V977.8"/><path d="M541.2 937V973.7"/><path d="M542.9 970.1V1006.8"/><path d="M545.5 934.5V970.1"/><path d="M549 918.6V955.3"/><path d="M551.2 958.5V995.1"/><path d="M554 959.3V996"/><path d="M555.4 927.8V961.7"/><path d="M558.7 927.8V961.7"/><path d="M559.9 906.6V943.2"/><path d="M563.7 911.9V948.6"/><path d="M565.9 951.5V988.1"/><path d="M567.9 907.8V944.4"/><path d="M571.6 947.7V984.3"/><path d="M573.4 933.6V964.2"/><path d="M577.1 927.6V964.2"/><path d="M577.4 913.6V950.2"/><path d="M582.1 880.2V916.8"/><path d="M582.9 923.6V957.6"/><path d="M586.3 923.6V957.6"/><path d="M589 933.6V972.6"/><path d="M593.8 933.6V969.3"/><path d="M595.9 912.4V949"/><path d="M601.6 945.1V981.8"/><path d="M603.8 917.8V954.7"/><path d="M607.1 947.5V984.8"/><path d="M610 902.4V940"/><path d="M615.1 926.6V970.9"/></g>
<path class="zl" d="M197.5 947.6H634.4"/>
<path class="th" d="M197.5 380H635.9"/>
<path d="M635.5 382.5v14" stroke="#e2e2e2" stroke-width="0.8" fill="none"/>
<rect x="635" y="379.3" width="2.1" height="3.4" fill="#000"/>
<path class="th" d="M197.5 749.9H635.9"/>
<path d="M635.5 752.4v14" stroke="#e2e2e2" stroke-width="0.8" fill="none"/>
<rect x="635" y="749.2" width="2.1" height="3.4" fill="#000"/>
<path class="sp" d="M197.5 9.6V1120H636.9"/>
<path class="sp" d="M182.7 93.7H197.5M182.7 220.7H197.5M182.7 347.8H197.5M182.7 489.8H197.5M182.7 618.9H197.5M182.7 748.1H197.5M182.7 817.3H197.5M182.7 947.7H197.5M182.7 1076.4H197.5M368.6 1120V1135M633.1 1120V1135"/>
<text x="168.1" y="108.3" text-anchor="end">5</text>
<text x="168.1" y="235.3" text-anchor="end">0</text>
<text x="168.1" y="362.4" text-anchor="end">−5</text>
<text x="168.1" y="504.4" text-anchor="end">0</text>
<text x="168.1" y="633.5" text-anchor="end">−2</text>
<text x="168.1" y="762.7" text-anchor="end">−4</text>
<text x="168.1" y="831.9" text-anchor="end">2</text>
<text x="168.1" y="962.3" text-anchor="end">0</text>
<text x="168.1" y="1091" text-anchor="end">−2</text>
<text x="368.6" y="1180.3" text-anchor="middle">0.8</text>
<text x="633.1" y="1180.3" text-anchor="middle">1.0</text>
<text x="417.5" y="1237.6" text-anchor="middle">BJD−2459134</text>
<text x="219.1" y="63.9" style="letter-spacing:0.9px"><tspan class="b">ARCTIC</tspan> <tspan class="i" dx="1.3">z</tspan></text>
</g>
<g>
<g class="lt"><path d="M741.7 337.3V362.4"/><path d="M745.9 309.1V334.2"/><path d="M750 291.7V316.8"/><path d="M753.9 320.4V345.5"/><path d="M757.9 317.3V342.3"/><path d="M762 312.9V338"/><path d="M765.9 328V353"/><path d="M770.1 324.5V349.5"/><path d="M773.9 292.1V317.1"/><path d="M778.1 308.9V334"/><path d="M781.7 308.2V333.3"/><path d="M785.1 308.1V333.2"/><path d="M788.9 318.2V343.3"/><path d="M792.9 292V317.1"/><path d="M797.1 303.6V328.7"/><path d="M801.1 304.7V329.8"/><path d="M805.1 313.5V338.6"/><path d="M809.3 304.8V329.9"/><path d="M813.1 292.9V318"/><path d="M816.8 273.9V299"/><path d="M820.8 266.9V292"/><path d="M828.8 67.2V92.2"/><path d="M833 28.9V53.9"/><path d="M835.8 73.4V98.5"/><path d="M839.9 98.5V123.5"/><path d="M843.9 120.6V145.7"/><path d="M848 136V161"/><path d="M851.9 135.3V160.4"/><path d="M855.9 132.5V157.6"/><path d="M863.9 161.7V186.8"/><path d="M868.1 173V198.1"/><path d="M871.1 188.5V213.6"/><path d="M875 201.3V226.4"/><path d="M878.8 219.4V244.5"/><path d="M882.8 216.1V241.2"/><path d="M887 227.2V252.2"/><path d="M891 231.1V256.2"/><path d="M895 248.5V273.6"/><path d="M899.2 243.3V268.4"/><path d="M903 247.8V272.9"/><path d="M906.7 274.5V299.5"/><path d="M910.9 265.6V290.6"/><path d="M915.1 248.2V273.2"/><path d="M918.7 251.8V276.9"/><path d="M921.9 249.4V274.5"/><path d="M925.9 266.2V291.3"/><path d="M929.9 268.6V293.6"/><path d="M933.9 262.4V287.5"/><path d="M937.9 284.2V309.3"/><path d="M942 272.2V297.2"/><path d="M946 286V311.1"/><path d="M950 281.5V306.6"/><path d="M954 286V311"/><path d="M958 295.8V320.9"/><path d="M961 275.6V300.6"/><path d="M965.2 285.1V310.2"/><path d="M969.2 289.2V314.2"/><path d="M973 294V319.1"/><path d="M977 284V309.1"/><path d="M981 298.4V323.5"/><path d="M985.2 286V311.1"/><path d="M989 286.1V311.2"/><path d="M993 293.1V318.2"/><path d="M997 294.1V319.2"/><path d="M1001.1 284.8V309.8"/><path d="M1003.9 280.6V305.7"/><path d="M1008.1 276.6V301.7"/><path d="M1011.9 279.5V304.6"/><path d="M1016.1 285.4V310.5"/><path d="M1019.9 277.4V302.5"/><path d="M1023.9 273.3V298.4"/><path d="M1027.9 286.1V311.1"/><path d="M1031.9 278.5V303.6"/><path d="M1034.4 281.2V306.3"/><path d="M1040 272.9V297.9"/><path d="M1043.1 285V310.1"/><path d="M1047 281.3V306.3"/><path d="M1051 285.2V310.3"/><path d="M1055 277.4V302.4"/><path d="M1059 268.6V293.7"/><path d="M1063 258.6V283.6"/><path d="M1067 266.4V291.5"/><path d="M1071 259.9V285"/><path d="M1075 276.2V301.3"/><path d="M1078 268.3V293.3"/><path d="M1082 256.1V281.1"/><path d="M1086 275V300.1"/><path d="M1090 259.9V285"/><path d="M1094.1 265.5V290.5"/><path d="M1098.1 265.2V290.3"/><path d="M1102.1 261.5V286.6"/><path d="M1106.1 263.2V288.2"/><path d="M1110.1 252.8V277.9"/><path d="M1114.1 262.9V287.9"/><path d="M1118.1 261.8V286.8"/><path d="M1121.3 264.4V289.5"/><path d="M1124.9 278.8V303.9"/><path d="M1129 271.8V296.8"/><path d="M1133 266.9V292"/><path d="M1137 267.7V292.8"/><path d="M1140.1 264.7V289.8"/></g>
<g class="dk"><path d="M741.7 346.5V353.1"/><path d="M745.9 318.3V324.9"/><path d="M750 301V307.6"/><path d="M753.9 329.7V336.2"/><path d="M757.9 326.5V333.1"/><path d="M762 322.2V328.8"/><path d="M765.9 337.2V343.8"/><path d="M770.1 333.7V340.3"/><path d="M773.9 301.3V307.9"/><path d="M778.1 318.1V324.7"/><path d="M781.7 317.4V324"/><path d="M785.1 317.3V323.9"/><path d="M788.9 327.4V334"/><path d="M792.9 301.2V307.8"/><path d="M797.1 312.8V319.4"/><path d="M801.1 314V320.6"/><path d="M805.1 322.7V329.3"/><path d="M809.3 314V320.6"/><path d="M813.1 302.1V308.7"/><path d="M816.8 283.2V289.8"/><path d="M820.8 276.1V282.7"/><path d="M828.8 76.4V83"/><path d="M833 38.1V44.7"/><path d="M835.8 82.6V89.2"/><path d="M839.9 107.7V114.3"/><path d="M843.9 129.9V136.5"/><path d="M848 145.2V151.8"/><path d="M851.9 144.5V151.1"/><path d="M855.9 141.8V148.4"/><path d="M863.9 171V177.6"/><path d="M868.1 182.3V188.9"/><path d="M871.1 197.7V204.3"/><path d="M875 210.5V217.1"/><path d="M878.8 228.6V235.2"/><path d="M882.8 225.4V232"/><path d="M887 236.4V243"/><path d="M891 240.3V246.9"/><path d="M895 257.8V264.4"/><path d="M899.2 252.5V259.1"/><path d="M903 257V263.6"/><path d="M906.7 283.7V290.3"/><path d="M910.9 274.8V281.4"/><path d="M915.1 257.4V264"/><path d="M918.7 261.1V267.7"/><path d="M921.9 258.7V265.2"/><path d="M925.9 275.4V282"/><path d="M929.9 277.8V284.4"/><path d="M933.9 271.6V278.2"/><path d="M937.9 293.4V300"/><path d="M942 281.4V288"/><path d="M946 295.2V301.8"/><path d="M950 290.8V297.4"/><path d="M954 295.2V301.8"/><path d="M958 305.1V311.7"/><path d="M961 284.8V291.4"/><path d="M965.2 294.4V301"/><path d="M969.2 298.4V305"/><path d="M973 303.3V309.9"/><path d="M977 293.2V299.8"/><path d="M981 307.6V314.2"/><path d="M985.2 295.2V301.8"/><path d="M989 295.3V301.9"/><path d="M993 302.4V309"/><path d="M997 303.3V309.9"/><path d="M1001.1 294V300.6"/><path d="M1003.9 289.8V296.4"/><path d="M1008.1 285.9V292.4"/><path d="M1011.9 288.8V295.4"/><path d="M1016.1 294.7V301.3"/><path d="M1019.9 286.7V293.2"/><path d="M1023.9 282.6V289.2"/><path d="M1027.9 295.3V301.9"/><path d="M1031.9 287.7V294.3"/><path d="M1034.4 290.5V297.1"/><path d="M1040 282.1V288.7"/><path d="M1043.1 294.2V300.8"/><path d="M1047 290.5V297.1"/><path d="M1051 294.4V301"/><path d="M1055 286.6V293.2"/><path d="M1059 277.9V284.5"/><path d="M1063 267.8V274.4"/><path d="M1067 275.7V282.3"/><path d="M1071 269.2V275.8"/><path d="M1075 285.4V292"/><path d="M1078 277.5V284.1"/><path d="M1082 265.3V271.9"/><path d="M1086 284.3V290.9"/><path d="M1090 269.1V275.7"/><path d="M1094.1 274.7V281.3"/><path d="M1098.1 274.5V281.1"/><path d="M1102.1 270.7V277.3"/><path d="M1106.1 272.4V279"/><path d="M1110.1 262V268.6"/><path d="M1114.1 272.1V278.7"/><path d="M1118.1 271V277.6"/><path d="M1121.3 273.6V280.2"/><path d="M1124.9 288.1V294.7"/><path d="M1129 281V287.6"/><path d="M1133 276.2V282.8"/><path d="M1137 277V283.5"/><path d="M1140.1 273.9V280.5"/></g>
<path class="or" d="M886 241.5L887 241.7L888 242L889 242.5L890 243L891 243.5L892 244L893 244.5L894 244.9L895 245.1L896 245.2L897 245.2L898 245L899 245.7L900 246.3L901 246.8L902 247.3L903 247.8L904 248.2L905 248.6L906 249L907 249.3L908 249.6L909 249.9L910 250.2L911 250.5L912 250.8L913 251L914 251.3L915 251.5L916 251.7L917 251.9L918 252.2L919 252.4L920 252.6L921 252.8L922 253L923 253.1L924 253.3L925 253.5L926 253.6L927 253.8L928 253.9L929 254.1L930 254.2L931 254.3L932 254.4L933 254.6L934 254.7L935 254.8L936 254.9L937 255L938 255.1L939 255.2L940 255.3L941 255.4L942 255.5L943 255.5L944 255.6L945 255.7L946 255.7L947 255.8L948 255.8L949 255.8L950 255.9L951 255.9L952 256L953 256L954 256L955 256.1L956 256.1L957 256.1L958 256.1L959 256.2L960 256.2L961 256.2L962 256.2L963 256.2L964 256.2L965 256.2L966 256.2L967 256.2L968 256.1L969 256.1L970 256.1L971 256.1L972 256L973 256L974 255.9L975 255.9L976 255.9L977 255.8L978 255.8L979 255.7L980 255.7L981 255.7L982 255.6L983 255.6L984 255.5L985 255.4L986 255.4L987 255.3L988 255.2L989 255.2L990 255.1L991 255L992 254.9L993 254.8L994 254.8L995 254.7L996 254.6L997 254.5L998 254.4L999 254.3L1000 254.3L1001 254.2L1002 254.1L1003 254L1004 253.9L1005 253.8L1006 253.7L1007 253.6L1008 253.5L1009 253.4L1010 253.3L1011 253.2L1012 253.1L1013 252.9L1014 252.8L1015 252.7L1016 252.6L1017 252.5L1018 252.4L1019 252.2L1020 252.1L1021 252L1022 251.9L1023 251.7L1024 251.6L1025 251.5L1026 251.3L1027 251.2L1028 251.1L1029 250.9L1030 250.8L1031 250.7L1032 250.5L1033 250.4L1034 250.2L1035 250.1L1036 249.9L1037 249.8L1038 249.6L1039 249.5L1040 249.3L1041 249.2L1042 249L1043 248.9L1044 248.7L1045 248.6L1046 248.4L1047 248.2L1048 248.1L1049 247.9L1050 247.7L1051 247.6L1052 247.4L1053 247.2L1054 247.1L1055 246.9L1056 246.7L1057 246.5L1058 246.3L1059 246.2L1060 246L1061 245.8L1062 245.6L1063 245.4L1064 245.2L1065 245L1066 244.8L1067 244.7L1068 244.5L1069 244.3L1070 244.1L1071 243.9L1072 243.7L1073 243.5L1074 243.3L1075 243.1L1076 242.9L1077 242.7L1078 242.5L1079 242.3L1080 242.1L1081 241.9L1082 241.7L1083 241.5L1084 241.2L1085 241L1086 240.8L1087 240.6L1088 240.4L1089 240.2L1090 239.9L1091 239.7L1092 239.5L1093 239.3L1094 239L1095 238.8L1096 238.6L1097 238.4L1098 238.1L1099 237.9L1100 237.7L1101 237.5L1102 237.3L1103 237L1104 236.8L1105 236.6L1106 236.4L1107 236.1L1108 235.9L1109 235.7L1110 235.5L1111 235.3L1112 235L1113 234.8L1114 234.6L1115 234.4L1116 234.1L1117 233.9L1118 233.7L1119 233.5L1120 233.2L1121 233L1122 232.8L1123 232.6L1124 232.3L1125 232.1L1126 231.9L1127 231.7L1128 231.4L1129 231.2L1130 231L1131 230.7L1132 230.5L1133 230.3L1134 230.1L1135 229.8L1136 229.6L1137 229.4L1138 229.2L1139 228.9L1140 228.7L1141 228.5L1142 228.3L1143 228L1143.2 228"/>
<path class="rd" d="M739.9 332.7L740.4 332.6L740.9 332.4L741.4 332.3L741.9 332.1L742.4 332L742.9 331.9L743.4 331.7L743.9 331.6L744.4 331.5L744.9 331.3L745.4 331.2L745.9 331L746.4 330.9L746.9 330.8L747.4 330.6L747.9 330.5L748.4 330.3L748.9 330.2L749.4 330L749.9 329.9L750.4 329.8L750.9 329.6L751.4 329.5L751.9 329.4L752.4 329.2L752.9 329.1L753.4 328.9L753.9 328.8L754.4 328.7L754.9 328.5L755.4 328.4L755.9 328.3L756.4 328.1L756.9 328L757.4 327.9L757.9 327.8L758.4 327.6L758.9 327.5L759.4 327.4L759.9 327.3L760.4 327.1L760.9 327L761.4 326.9L761.9 326.8L762.4 326.7L762.9 326.5L763.4 326.4L763.9 326.3L764.4 326.2L764.9 326.1L765.4 326L765.9 325.9L766.4 325.8L766.9 325.7L767.4 325.6L767.9 325.5L768.4 325.4L768.9 325.3L769.4 325.2L769.9 325.1L770.4 325L770.9 324.9L771.4 324.8L771.9 324.7L772.4 324.6L772.9 324.5L773.4 324.4L773.9 324.3L774.4 324.2L774.9 324.1L775.4 324L775.9 323.9L776.4 323.8L776.9 323.7L777.4 323.7L777.9 323.6L778.4 323.5L778.9 323.4L779.4 323.3L779.9 323.2L780.4 323.1L780.9 323L781.4 322.9L781.9 322.8L782.4 322.7L782.9 322.6L783.4 322.5L783.9 322.4L784.4 322.3L784.9 322.2L785.4 322.1L785.9 322L786.4 321.9L786.9 321.8L787.4 321.7L787.9 321.6L788.4 321.5L788.9 321.4L789.4 321.3L789.9 321.2L790.4 321.1L790.9 320.9L791.4 320.8L791.9 320.7L792.4 320.7L792.9 320.6L793.4 320.5L793.9 320.4L794.4 320.3L794.9 320.2L795.4 320.1L795.9 320L796.4 319.9L796.9 319.7L797.4 319.6L797.9 319.5L798.4 319.4L798.9 319.3L799.4 319.1L799.9 319L800.4 318.9L800.9 318.7L801.4 318.5L801.9 318.4L802.4 318.2L802.9 318L803.4 317.8L803.9 317.6L804.4 317.4L804.9 317.1L805.4 316.8L805.9 316.5L806.4 316.2L806.9 315.8L807.4 315.4L807.9 314.9L808.4 314.4L808.9 313.7L809.4 312.9L809.9 312L810.4 310.8L810.9 309.5L811.4 308.1L811.9 306.6L812.4 304.9L812.9 302.8L813.4 300.1L813.9 297L814.4 293.6L814.9 290.1L815.4 286.4L815.9 282.3L816.4 277.9L816.9 273.3L817.4 268.4L817.9 263.2L818.4 257.8L818.9 251.9L819.4 245.7L819.9 239.4L820.4 233.1L820.9 226.9L821.4 220.6L821.9 214.2L822.4 207.7L822.9 201L823.4 194L823.9 186.9L824.4 179.5L824.9 172L825.4 164.3L825.9 156.4L826.4 148.3L826.9 140L827.4 131.6L827.9 122.9L828.4 114.1L828.9 105.2L829.4 95.7L829.9 86.2L830.4 77L830.9 68.3L831.4 59.6L831.9 52L832.4 46.1L832.9 41.1L833.4 39.7L833.9 41.9L834.4 45.6L834.9 48.9L835.4 52.4L835.9 56.1L836.4 60.1L836.9 64.3L837.4 69L837.9 74.2L838.4 79.6L838.9 84.8L839.4 89.6L839.9 93.8L840.4 97.8L840.9 101.7L841.4 105.4L841.9 109L842.4 112.5L842.9 115.9L843.4 119.2L843.9 122.5L844.4 125.7L844.9 128.9L845.4 132L845.9 135L846.4 137.9L846.9 140.8L847.4 143.5L847.9 146.1L848.4 148.7L848.9 151.2L849.4 153.6L849.9 155.9L850.4 158.2L850.9 160.4L851.4 162.5L851.9 164.5L852.4 166.5L852.9 168.4L853.4 170.2L853.9 172L854.4 173.8L854.9 175.5L855.4 177.1L855.9 178.8L856.4 180.4L856.9 182L857.4 183.6L857.9 185.3L858.4 186.9L858.9 188.4L859.4 190L859.9 191.5L860.4 193L860.9 194.5L861.4 195.9L861.9 197.3L862.4 198.7L862.9 199.9L863.4 201.2L863.9 202.4L864.4 203.5L864.9 204.7L865.4 205.8L865.9 206.9L866.4 207.9L866.9 209L867.4 210.1L867.9 211.1L868.4 212.2L868.9 213.2L869.4 214.3L869.9 215.3L870.4 216.3L870.9 217.3L871.4 218.3L871.9 219.3L872.4 220.3L872.9 221.2L873.4 222.1L873.9 223L874.4 223.9L874.9 224.8L875.4 225.7L875.9 226.5L876.4 227.3L876.9 228.2L877.4 229L877.9 229.8L878.4 230.6L878.9 231.3L879.4 232.1L879.9 232.9L880.4 233.6L880.9 234.4L881.4 235.1L881.9 235.8L882.4 236.5L882.9 237.2L883.4 237.9L883.9 238.6L884.4 239.3L884.9 240L885.4 240.7L885.9 241.4L886.4 242L886.9 242.7L887.4 243.4L887.9 244L888.4 244.7L888.9 245.3L889.4 245.9L889.9 246.6L890.4 247.2L890.9 247.8L891.4 248.4L891.9 248.9L892.4 249.5L892.9 250.1L893.4 250.6L893.9 251.2L894.4 251.7L894.9 252.3L895.4 252.8L895.9 253.4L896.4 253.9L896.9 254.5L897.4 255L897.9 255.6L898.4 256.2L898.9 256.7L899.4 257.3L899.9 257.9L900.4 258.4L900.9 258.9L901.4 259.5L901.9 260L902.4 260.5L902.9 261L903.4 261.5L903.9 261.9L904.4 262.4L904.9 262.8L905.4 263.3L905.9 263.7L906.4 264.1L906.9 264.6L907.4 265L907.9 265.4L908.4 265.9L908.9 266.3L909.4 266.8L909.9 267.2L910.4 267.7L910.9 268.2L911.4 268.6L911.9 269.1L912.4 269.5L912.9 270L913.4 270.4L913.9 270.8L914.4 271.3L914.9 271.7L915.4 272.1L915.9 272.6L916.4 273L916.9 273.4L917.4 273.9L917.9 274.3L918.4 274.7L918.9 275.1L919.4 275.5L919.9 275.9L920.4 276.3L920.9 276.7L921.4 277.1L921.9 277.5L922.4 277.9L922.9 278.3L923.4 278.6L923.9 279L924.4 279.4L924.9 279.7L925.4 280.1L925.9 280.4L926.4 280.7L926.9 281L927.4 281.3L927.9 281.6L928.4 281.9L928.9 282.2L929.4 282.5L929.9 282.8L930.4 283.1L930.9 283.3L931.4 283.6L931.9 283.8L932.4 284.1L932.9 284.3L933.4 284.6L933.9 284.8L934.4 285L934.9 285.3L935.4 285.5L935.9 285.7L936.4 285.9L936.9 286.1L937.4 286.3L937.9 286.5L938.4 286.7L938.9 286.9L939.4 287.1L939.9 287.3L940.4 287.5L940.9 287.7L941.4 287.8L941.9 288L942.4 288.2L942.9 288.4L943.4 288.5L943.9 288.7L944.4 288.9L944.9 289L945.4 289.2L945.9 289.3L946.4 289.5L946.9 289.6L947.4 289.7L947.9 289.9L948.4 290L948.9 290.1L949.4 290.2L949.9 290.4L950.4 290.5L950.9 290.6L951.4 290.7L951.9 290.8L952.4 290.9L952.9 291L953.4 291.1L953.9 291.2L954.4 291.3L954.9 291.4L955.4 291.5L955.9 291.6L956.4 291.6L956.9 291.7L957.4 291.8L957.9 291.9L958.4 291.9L958.9 292L959.4 292.1L959.9 292.1L960.4 292.2L960.9 292.3L961.4 292.3L961.9 292.4L962.4 292.5L962.9 292.5L963.4 292.6L963.9 292.6L964.4 292.7L964.9 292.7L965.4 292.8L965.9 292.8L966.4 292.9L966.9 292.9L967.4 293L967.9 293L968.4 293.1L968.9 293.1L969.4 293.2L969.9 293.2L970.4 293.3L970.9 293.3L971.4 293.4L971.9 293.4L972.4 293.5L972.9 293.5L973.4 293.6L973.9 293.6L974.4 293.6L974.9 293.7L975.4 293.7L975.9 293.7L976.4 293.8L976.9 293.8L977.4 293.8L977.9 293.9L978.4 293.9L978.9 293.9L979.4 293.9L979.9 294L980.4 294L980.9 294L981.4 294L981.9 294L982.4 294.1L982.9 294.1L983.4 294.1L983.9 294.1L984.4 294.1L984.9 294.2L985.4 294.2L985.9 294.2L986.4 294.2L986.9 294.2L987.4 294.2L987.9 294.2L988.4 294.3L988.9 294.3L989.4 294.3L989.9 294.3L990.4 294.3L990.9 294.3L991.4 294.3L991.9 294.3L992.4 294.3L992.9 294.3L993.4 294.3L993.9 294.3L994.4 294.3L994.9 294.3L995.4 294.3L995.9 294.2L996.4 294.2L996.9 294.2L997.4 294.2L997.9 294.2L998.4 294.2L998.9 294.2L999.4 294.2L999.9 294.2L1000.4 294.2L1000.9 294.2L1001.4 294.2L1001.9 294.2L1002.4 294.1L1002.9 294.1L1003.4 294.1L1003.9 294.1L1004.4 294.1L1004.9 294.1L1005.4 294.1L1005.9 294.1L1006.4 294L1006.9 294L1007.4 294L1007.9 294L1008.4 294L1008.9 293.9L1009.4 293.9L1009.9 293.9L1010.4 293.9L1010.9 293.8L1011.4 293.8L1011.9 293.8L1012.4 293.7L1012.9 293.7L1013.4 293.7L1013.9 293.6L1014.4 293.6L1014.9 293.5L1015.4 293.5L1015.9 293.5L1016.4 293.4L1016.9 293.4L1017.4 293.3L1017.9 293.3L1018.4 293.3L1018.9 293.2L1019.4 293.2L1019.9 293.1L1020.4 293.1L1020.9 293.1L1021.4 293L1021.9 293L1022.4 292.9L1022.9 292.9L1023.4 292.8L1023.9 292.8L1024.4 292.8L1024.9 292.7L1025.4 292.7L1025.9 292.6L1026.4 292.6L1026.9 292.5L1027.4 292.5L1027.9 292.4L1028.4 292.4L1028.9 292.3L1029.4 292.3L1029.9 292.2L1030.4 292.2L1030.9 292.1L1031.4 292.1L1031.9 292L1032.4 292L1032.9 291.9L1033.4 291.8L1033.9 291.8L1034.4 291.7L1034.9 291.7L1035.4 291.6L1035.9 291.6L1036.4 291.5L1036.9 291.4L1037.4 291.4L1037.9 291.3L1038.4 291.3L1038.9 291.2L1039.4 291.1L1039.9 291.1L1040.4 291L1040.9 291L1041.4 290.9L1041.9 290.8L1042.4 290.8L1042.9 290.7L1043.4 290.6L1043.9 290.6L1044.4 290.5L1044.9 290.4L1045.4 290.3L1045.9 290.3L1046.4 290.2L1046.9 290.1L1047.4 290.1L1047.9 290L1048.4 289.9L1048.9 289.8L1049.4 289.8L1049.9 289.7L1050.4 289.6L1050.9 289.5L1051.4 289.4L1051.9 289.4L1052.4 289.3L1052.9 289.2L1053.4 289.1L1053.9 289L1054.4 288.9L1054.9 288.9L1055.4 288.8L1055.9 288.7L1056.4 288.6L1056.9 288.5L1057.4 288.4L1057.9 288.3L1058.4 288.2L1058.9 288.1L1059.4 288L1059.9 287.9L1060.4 287.8L1060.9 287.7L1061.4 287.7L1061.9 287.6L1062.4 287.5L1062.9 287.4L1063.4 287.3L1063.9 287.2L1064.4 287.1L1064.9 287L1065.4 286.9L1065.9 286.8L1066.4 286.7L1066.9 286.6L1067.4 286.5L1067.9 286.4L1068.4 286.3L1068.9 286.2L1069.4 286.1L1069.9 286L1070.4 285.9L1070.9 285.8L1071.4 285.6L1071.9 285.5L1072.4 285.4L1072.9 285.3L1073.4 285.2L1073.9 285.1L1074.4 285L1074.9 284.9L1075.4 284.8L1075.9 284.7L1076.4 284.6L1076.9 284.5L1077.4 284.4L1077.9 284.3L1078.4 284.2L1078.9 284.1L1079.4 284L1079.9 283.9L1080.4 283.8L1080.9 283.7L1081.4 283.6L1081.9 283.5L1082.4 283.4L1082.9 283.3L1083.4 283.3L1083.9 283.2L1084.4 283.1L1084.9 283L1085.4 282.9L1085.9 282.8L1086.4 282.7L1086.9 282.6L1087.4 282.5L1087.9 282.4L1088.4 282.4L1088.9 282.3L1089.4 282.2L1089.9 282.1L1090.4 282L1090.9 281.9L1091.4 281.8L1091.9 281.7L1092.4 281.7L1092.9 281.6L1093.4 281.5L1093.9 281.4L1094.4 281.3L1094.9 281.2L1095.4 281.1L1095.9 281L1096.4 281L1096.9 280.9L1097.4 280.8L1097.9 280.7L1098.4 280.6L1098.9 280.5L1099.4 280.4L1099.9 280.4L1100.4 280.3L1100.9 280.2L1101.4 280.1L1101.9 280L1102.4 279.9L1102.9 279.8L1103.4 279.8L1103.9 279.7L1104.4 279.6L1104.9 279.5L1105.4 279.4L1105.9 279.3L1106.4 279.2L1106.9 279.1L1107.4 279.1L1107.9 279L1108.4 278.9L1108.9 278.8L1109.4 278.7L1109.9 278.6L1110.4 278.5L1110.9 278.4L1111.4 278.3L1111.9 278.2L1112.4 278.1L1112.9 278L1113.4 277.9L1113.9 277.8L1114.4 277.7L1114.9 277.6L1115.4 277.5L1115.9 277.4L1116.4 277.3L1116.9 277.2L1117.4 277.1L1117.9 277L1118.4 276.9L1118.9 276.8L1119.4 276.7L1119.9 276.6L1120.4 276.5L1120.9 276.4L1121.4 276.3L1121.9 276.2L1122.4 276.1L1122.9 276L1123.4 275.9L1123.9 275.8L1124.4 275.7L1124.9 275.6L1125.4 275.5L1125.9 275.4L1126.4 275.3L1126.9 275.2L1127.4 275.1L1127.9 275L1128.4 274.9L1128.9 274.8L1129.4 274.7L1129.9 274.7L1130.4 274.6L1130.9 274.5L1131.4 274.4L1131.9 274.3L1132.4 274.2L1132.9 274.1L1133.4 274L1133.9 273.9L1134.4 273.9L1134.9 273.8L1135.4 273.7L1135.9 273.6L1136.4 273.5L1136.9 273.4L1137.4 273.3L1137.9 273.3L1138.4 273.2L1138.9 273.1L1139.4 273L1139.9 272.9L1140.4 272.8L1140.9 272.8L1141.4 272.7L1141.9 272.6L1142.4 272.5L1142.9 272.4L1143.1 272.4"/>
<g class="lt"><path d="M741.7 543.6V614.8"/><path d="M745.9 466.8V538"/><path d="M750 420.8V492"/><path d="M753.9 505.2V576.5"/><path d="M757.9 499.3V570.5"/><path d="M762 489.9V561.1"/><path d="M765.9 535V606.2"/><path d="M770.1 527.5V598.7"/><path d="M773.9 437.5V508.7"/><path d="M778.1 487.6V558.8"/><path d="M781.7 487.6V558.8"/><path d="M785.1 489.1V560.4"/><path d="M788.9 520.1V591.3"/><path d="M792.9 448V519.2"/><path d="M797.1 483.3V554.6"/><path d="M801.1 489.6V560.8"/><path d="M805.1 519.2V590.4"/><path d="M809.3 505.6V576.8"/><path d="M813.1 504.8V576"/><path d="M816.8 529V600.3"/><path d="M820.8 640.4V711.7"/><path d="M828.8 418.4V489.6"/><path d="M833 495.4V566.6"/><path d="M835.8 579.1V650.3"/><path d="M839.9 543.1V614.3"/><path d="M843.9 524.3V595.6"/><path d="M848 498.1V569.3"/><path d="M851.9 446.1V517.3"/><path d="M855.9 397.8V469"/><path d="M863.9 413.6V484.8"/><path d="M868.1 419.8V491"/><path d="M871.1 446.1V517.3"/><path d="M875 461.8V533"/><path d="M878.8 495.6V566.8"/><path d="M882.8 470.9V542.1"/><path d="M887 488.4V559.7"/><path d="M891 489V560.2"/><path d="M895 530.6V601.8"/><path d="M899.2 508.5V579.8"/><path d="M903 516.4V587.6"/><path d="M906.7 589.5V660.8"/><path d="M910.9 561.7V632.9"/><path d="M915.1 510.2V581.5"/><path d="M918.7 519.1V590.3"/><path d="M921.9 510.8V582.1"/><path d="M925.9 557.2V628.4"/><path d="M929.9 563.6V634.9"/><path d="M933.9 546.2V617.5"/><path d="M937.9 608.8V680"/><path d="M942 574.8V646.1"/><path d="M946 614.4V685.6"/><path d="M950 602V673.2"/><path d="M954 614.9V686.2"/><path d="M958 643.3V714.6"/><path d="M961 586.1V657.3"/><path d="M965.2 613.6V684.8"/><path d="M969.2 625.4V696.6"/><path d="M973 639.4V710.6"/><path d="M977 611.1V682.4"/><path d="M981 652.5V723.8"/><path d="M985.2 617.9V689.1"/><path d="M989 618.8V690"/><path d="M993 639.6V710.9"/><path d="M997 643.2V714.4"/><path d="M1001.1 617.6V688.8"/><path d="M1003.9 606.3V677.5"/><path d="M1008.1 595.9V667.1"/><path d="M1011.9 605.3V676.5"/><path d="M1016.1 623.4V694.7"/><path d="M1019.9 602V673.2"/><path d="M1023.9 591.7V662.9"/><path d="M1027.9 629.3V700.6"/><path d="M1031.9 609.4V680.6"/><path d="M1034.4 618.2V689.4"/><path d="M1040 596.7V668"/><path d="M1043.1 632.7V703.9"/><path d="M1047 623.9V695.1"/><path d="M1051 637V708.2"/><path d="M1055 616.9V688.1"/><path d="M1059 594.4V665.7"/><path d="M1063 568.2V639.4"/><path d="M1067 593V664.2"/><path d="M1071 577.1V648.3"/><path d="M1075 626V697.2"/><path d="M1078 605.3V676.5"/><path d="M1082 572.9V644.2"/><path d="M1086 629.1V700.4"/><path d="M1090 588.3V659.5"/><path d="M1094.1 606.3V677.5"/><path d="M1098.1 607.7V678.9"/><path d="M1102.1 599.2V670.5"/><path d="M1106.1 606.1V677.3"/><path d="M1110.1 578.8V650"/><path d="M1114.1 609.8V681"/><path d="M1118.1 609.1V680.3"/><path d="M1121.3 618.6V689.8"/><path d="M1124.9 661.7V732.9"/><path d="M1129 643.8V715"/><path d="M1133 632.2V703.4"/><path d="M1137 636.5V707.7"/><path d="M1140.1 629.6V700.8"/></g>
<g class="dk"><path d="M741.7 569.8V588.6"/><path d="M745.9 493V511.7"/><path d="M750 447V465.7"/><path d="M753.9 531.5V550.2"/><path d="M757.9 525.5V544.3"/><path d="M762 516.2V534.9"/><path d="M765.9 561.2V580"/><path d="M770.1 553.7V572.5"/><path d="M773.9 463.7V482.5"/><path d="M778.1 513.8V532.6"/><path d="M781.7 513.8V532.6"/><path d="M785.1 515.4V534.1"/><path d="M788.9 546.4V565.1"/><path d="M792.9 474.2V493"/><path d="M797.1 509.6V528.3"/><path d="M801.1 515.8V534.6"/><path d="M805.1 545.4V564.2"/><path d="M809.3 531.8V550.5"/><path d="M813.1 531V549.8"/><path d="M816.8 555.3V574"/><path d="M820.8 666.7V685.4"/><path d="M828.8 444.6V463.4"/><path d="M833 521.6V540.4"/><path d="M835.8 605.3V624.1"/><path d="M839.9 569.4V588.1"/><path d="M843.9 550.6V569.3"/><path d="M848 524.3V543"/><path d="M851.9 472.3V491.1"/><path d="M855.9 424V442.7"/><path d="M863.9 439.8V458.5"/><path d="M868.1 446.1V464.8"/><path d="M871.1 472.3V491.1"/><path d="M875 488V506.7"/><path d="M878.8 521.8V540.6"/><path d="M882.8 497.1V515.9"/><path d="M887 514.7V533.4"/><path d="M891 515.2V534"/><path d="M895 556.8V575.6"/><path d="M899.2 534.8V553.5"/><path d="M903 542.6V561.4"/><path d="M906.7 615.8V634.5"/><path d="M910.9 588V606.7"/><path d="M915.1 536.5V555.2"/><path d="M918.7 545.3V564"/><path d="M921.9 537.1V555.8"/><path d="M925.9 583.5V602.2"/><path d="M929.9 589.9V608.6"/><path d="M933.9 572.5V591.2"/><path d="M937.9 635V653.8"/><path d="M942 601.1V619.8"/><path d="M946 640.6V659.4"/><path d="M950 628.2V647"/><path d="M954 641.2V659.9"/><path d="M958 669.6V688.3"/><path d="M961 612.3V631.1"/><path d="M965.2 639.8V658.6"/><path d="M969.2 651.6V670.3"/><path d="M973 665.7V684.4"/><path d="M977 637.4V656.1"/><path d="M981 678.8V697.5"/><path d="M985.2 644.1V662.9"/><path d="M989 645V663.7"/><path d="M993 665.9V684.6"/><path d="M997 669.4V688.2"/><path d="M1001.1 643.8V662.5"/><path d="M1003.9 632.5V651.2"/><path d="M1008.1 622.1V640.9"/><path d="M1011.9 631.5V650.3"/><path d="M1016.1 649.7V668.4"/><path d="M1019.9 628.2V646.9"/><path d="M1023.9 618V636.7"/><path d="M1027.9 655.6V674.3"/><path d="M1031.9 635.6V654.3"/><path d="M1034.4 644.4V663.2"/><path d="M1040 623V641.7"/><path d="M1043.1 658.9V677.6"/><path d="M1047 650.1V668.8"/><path d="M1051 663.2V682"/><path d="M1055 643.1V661.9"/><path d="M1059 620.7V639.4"/><path d="M1063 594.5V613.2"/><path d="M1067 619.2V638"/><path d="M1071 603.3V622.1"/><path d="M1075 652.2V670.9"/><path d="M1078 631.5V650.3"/><path d="M1082 599.2V617.9"/><path d="M1086 655.4V674.1"/><path d="M1090 614.5V633.3"/><path d="M1094.1 632.5V651.3"/><path d="M1098.1 633.9V652.7"/><path d="M1102.1 625.5V644.2"/><path d="M1106.1 632.3V651.1"/><path d="M1110.1 605.1V623.8"/><path d="M1114.1 636V654.7"/><path d="M1118.1 635.3V654.1"/><path d="M1121.3 644.8V663.6"/><path d="M1124.9 687.9V706.7"/><path d="M1129 670.1V688.8"/><path d="M1133 658.4V677.2"/><path d="M1137 662.8V681.5"/><path d="M1140.1 655.8V674.5"/></g>
<path class="bd" d="M874.7 526.2L875.7 526.2L876.7 526.1L877.7 526L878.7 526L879.7 526L880.7 526.2L881.7 526.4L882.7 526.8L883.7 527.1L884.7 527.5L885.7 527.9L886.7 528.4L887.7 528.9L888.7 529.5L889.7 530.1L890.7 530.8L891.7 531.6L892.7 532.5L893.7 533.5L894.7 534.6L895.7 535.7L896.7 536.9L897.7 538.1L898.7 539.4L899.7 540.8L900.7 542.3L901.7 543.8L902.7 545.3L903.7 547L904.7 548.7L905.7 550.5L906.7 552.2L907.7 554L908.7 555.8L909.7 557.6L910.7 559.5L911.7 561.4L912.7 563.4L913.7 565.4L914.7 567.4L915.7 569.4L916.7 571.5L917.7 573.5L918.7 575.5L919.7 577.5L920.7 579.5L921.7 581.5L922.7 583.4L923.7 585.2L924.7 587.1L925.7 588.9L926.7 590.6L927.7 592.4L928.7 594.1L929.7 595.7L930.7 597.2L931.7 598.7L932.7 600.1L933.7 601.5L934.7 602.8L935.7 604.2L936.7 605.5L937.7 606.8L938.7 608L939.7 609.1L940.7 610.2L941.7 611.2L942.7 612.2L943.7 613.2L944.7 614.1L945.7 614.9L946.7 615.8L947.7 616.6L948.7 617.4L949.7 618.1L950.7 618.8L951.7 619.5L952.7 620.1L953.7 620.7L954.7 621.3L955.7 621.9L956.7 622.4L957.7 622.9L958.7 623.3L959.7 623.8L960.7 624.2L961.7 624.6L962.7 625L963.7 625.3L964.7 625.7L965.7 626L966.7 626.4L967.7 626.7L968.7 627L969.7 627.3L970.7 627.6L971.7 627.8L972.7 628.1L973.7 628.4L974.7 628.6L975.7 628.9L976.7 629.1L977.7 629.3L978.7 629.5L979.7 629.8L980.7 630L981.7 630.2L982.7 630.4L983.7 630.6L984.7 630.9L985.7 631.1L986.7 631.3L987.7 631.5L988.7 631.7L989.7 631.9L990.7 632.1L991.7 632.3L992.7 632.4L993.7 632.6L994.7 632.8L995.7 632.9L996.7 633.1L997.7 633.2L998.7 633.4L999.7 633.5L1000.7 633.7L1001.7 633.8L1002.7 633.9L1003.7 634L1004.7 634.2L1005.7 634.3L1006.7 634.4L1007.7 634.5L1008.7 634.6L1009.7 634.7L1010.7 634.8L1011.7 634.9L1012.7 635L1013.7 635.1L1014.7 635.2L1015.7 635.3L1016.7 635.3L1017.7 635.4L1018.7 635.5L1019.7 635.6L1020.7 635.7L1021.7 635.8L1022.7 635.8L1023.7 635.9L1024.7 636L1025.7 636L1026.7 636.1L1027.7 636.2L1028.7 636.2L1029.7 636.3L1030.7 636.4L1031.7 636.4L1032.7 636.5L1033.7 636.6L1034.7 636.6L1035.7 636.7L1036.7 636.7L1037.7 636.8L1038.7 636.9L1039.7 636.9L1040.7 637L1041.7 637L1042.7 637.1L1043.7 637.1L1044.7 637.2L1045.7 637.2L1046.7 637.3L1047.7 637.3L1048.7 637.4L1049.7 637.4L1050.7 637.5L1051.7 637.5L1052.7 637.5L1053.7 637.6L1054.7 637.6L1055.7 637.6L1056.7 637.7L1057.7 637.7L1058.7 637.7L1059.7 637.8L1060.7 637.8L1061.7 637.9L1062.7 637.9L1063.7 638L1064.7 638L1065.7 638.1L1066.7 638.1L1067.7 638.2L1068.7 638.2L1069.7 638.3L1070.7 638.3L1071.7 638.4L1072.7 638.4L1073.7 638.4L1074.7 638.5L1075.7 638.5L1076.7 638.6L1077.7 638.6L1078.7 638.7L1079.7 638.7L1080.7 638.7L1081.7 638.8L1082.7 638.8L1083.7 638.9L1084.7 638.9L1085.7 638.9L1086.7 639L1087.7 639L1088.7 639L1089.7 639.1L1090.7 639.1L1091.7 639.1L1092.7 639.2L1093.7 639.2L1094.7 639.2L1095.7 639.3L1096.7 639.3L1097.7 639.3L1098.7 639.4L1099.7 639.4L1100.7 639.4L1101.7 639.5L1102.7 639.5L1103.7 639.5L1104.7 639.5L1105.7 639.6L1106.7 639.6L1107.7 639.6L1108.7 639.6L1109.7 639.7L1110.7 639.7L1111.7 639.7L1112.7 639.7L1113.7 639.7L1114.7 639.8L1115.7 639.8L1116.7 639.8L1117.7 639.8L1118.7 639.9L1119.7 639.9L1120.7 639.9L1121.7 639.9L1122.7 639.9L1123.7 640L1124.7 640L1125.7 640L1126.7 640L1127.7 640L1128.7 640.1L1129.7 640.1L1130.7 640.1L1131.7 640.1L1132.7 640.1L1133.7 640.2L1134.7 640.2L1135.7 640.2L1136.7 640.2L1137.7 640.2L1138.7 640.3L1139.7 640.3L1140.7 640.3L1141.7 640.3L1142.7 640.3L1143.7 640.3L1143.7 665.3L1142.7 665.3L1141.7 665.3L1140.7 665.3L1139.7 665.2L1138.7 665.2L1137.7 665.2L1136.7 665.1L1135.7 665.1L1134.7 665.1L1133.7 665L1132.7 665L1131.7 665L1130.7 665L1129.7 664.9L1128.7 664.9L1127.7 664.9L1126.7 664.8L1125.7 664.8L1124.7 664.8L1123.7 664.7L1122.7 664.7L1121.7 664.7L1120.7 664.6L1119.7 664.6L1118.7 664.6L1117.7 664.5L1116.7 664.5L1115.7 664.5L1114.7 664.4L1113.7 664.4L1112.7 664.4L1111.7 664.3L1110.7 664.3L1109.7 664.2L1108.7 664.2L1107.7 664.2L1106.7 664.1L1105.7 664.1L1104.7 664.1L1103.7 664L1102.7 664L1101.7 664L1100.7 663.9L1099.7 663.9L1098.7 663.8L1097.7 663.8L1096.7 663.8L1095.7 663.7L1094.7 663.7L1093.7 663.6L1092.7 663.6L1091.7 663.5L1090.7 663.5L1089.7 663.4L1088.7 663.4L1087.7 663.3L1086.7 663.3L1085.7 663.2L1084.7 663.2L1083.7 663.1L1082.7 663.1L1081.7 663L1080.7 663L1079.7 662.9L1078.7 662.9L1077.7 662.8L1076.7 662.8L1075.7 662.7L1074.7 662.7L1073.7 662.6L1072.7 662.6L1071.7 662.5L1070.7 662.4L1069.7 662.4L1068.7 662.3L1067.7 662.3L1066.7 662.2L1065.7 662.1L1064.7 662.1L1063.7 662L1062.7 662L1061.7 661.9L1060.7 661.8L1059.7 661.8L1058.7 661.7L1057.7 661.6L1056.7 661.5L1055.7 661.4L1054.7 661.3L1053.7 661.3L1052.7 661.2L1051.7 661.1L1050.7 661L1049.7 660.9L1048.7 660.8L1047.7 660.7L1046.7 660.6L1045.7 660.5L1044.7 660.4L1043.7 660.3L1042.7 660.2L1041.7 660.1L1040.7 660L1039.7 659.9L1038.7 659.8L1037.7 659.7L1036.7 659.6L1035.7 659.5L1034.7 659.4L1033.7 659.2L1032.7 659.1L1031.7 659L1030.7 658.9L1029.7 658.8L1028.7 658.7L1027.7 658.6L1026.7 658.4L1025.7 658.3L1024.7 658.2L1023.7 658.1L1022.7 658L1021.7 657.8L1020.7 657.7L1019.7 657.6L1018.7 657.5L1017.7 657.3L1016.7 657.2L1015.7 657L1014.7 656.9L1013.7 656.8L1012.7 656.6L1011.7 656.5L1010.7 656.3L1009.7 656.2L1008.7 656L1007.7 655.9L1006.7 655.7L1005.7 655.5L1004.7 655.4L1003.7 655.2L1002.7 655L1001.7 654.9L1000.7 654.7L999.7 654.5L998.7 654.3L997.7 654.1L996.7 653.9L995.7 653.7L994.7 653.5L993.7 653.3L992.7 653.1L991.7 652.8L990.7 652.6L989.7 652.4L988.7 652.1L987.7 651.9L986.7 651.6L985.7 651.4L984.7 651.1L983.7 650.8L982.7 650.6L981.7 650.3L980.7 650L979.7 649.7L978.7 649.4L977.7 649.1L976.7 648.8L975.7 648.5L974.7 648.2L973.7 647.9L972.7 647.5L971.7 647.2L970.7 646.8L969.7 646.4L968.7 646.1L967.7 645.7L966.7 645.3L965.7 644.9L964.7 644.5L963.7 644L962.7 643.6L961.7 643.1L960.7 642.6L959.7 642.1L958.7 641.6L957.7 641.1L956.7 640.5L955.7 639.9L954.7 639.3L953.7 638.6L952.7 637.9L951.7 637.2L950.7 636.4L949.7 635.7L948.7 634.8L947.7 634L946.7 633.1L945.7 632.2L944.7 631.2L943.7 630.2L942.7 629.2L941.7 628.1L940.7 627L939.7 625.9L938.7 624.7L937.7 623.4L936.7 622L935.7 620.6L934.7 619.2L933.7 617.8L932.7 616.3L931.7 614.8L930.7 613.3L929.7 611.7L928.7 610L927.7 608.4L926.7 606.8L925.7 605.3L924.7 603.7L923.7 602.1L922.7 600.4L921.7 598.7L920.7 597L919.7 595.3L918.7 593.5L917.7 591.7L916.7 589.8L915.7 588L914.7 586.1L913.7 584.1L912.7 582.1L911.7 580.1L910.7 578.1L909.7 576.1L908.7 574L907.7 572L906.7 570L905.7 568L904.7 566L903.7 564.1L902.7 562.3L901.7 560.4L900.7 558.6L899.7 556.9L898.7 555.1L897.7 553.4L896.7 551.7L895.7 550L894.7 548.4L893.7 547L892.7 545.5L891.7 544.2L890.7 542.9L889.7 541.6L888.7 540.5L887.7 539.3L886.7 538.3L885.7 537.3L884.7 536.4L883.7 535.6L882.7 535L881.7 534.4L880.7 533.8L879.7 533.3L878.7 532.9L877.7 532.4L876.7 532.1L875.7 532L874.7 532Z"/>
<path class="bo" d="M876.7 526.2L877.7 526.2L878.7 526.3L879.7 526.4L880.7 526.7L881.7 527.1L882.7 527.6L883.7 528L884.7 528.5L885.7 529.1L886.7 529.7L887.7 530.4L888.7 531.2L889.7 532.1L890.7 533.1L891.7 534.2L892.7 535.3L893.7 536.5L894.7 537.7L895.7 539.1L896.7 540.5L897.7 541.9L898.7 543.5L899.7 545.1L900.7 546.8L901.7 548.5L902.7 550.3L903.7 552L904.7 553.8L905.7 555.6L906.7 557.5L907.7 559.4L908.7 561.3L909.7 563.3L910.7 565.3L911.7 567.3L912.7 569.3L913.7 571.4L914.7 573.4L915.7 575.4L916.7 577.4L917.7 579.4L918.7 581.3L919.7 583.2L920.7 585.1L921.7 586.9L922.7 588.7L923.7 590.4L924.7 592.2L925.7 593.8L926.7 595.5L927.7 597.1L928.7 598.7L929.7 600.3L930.7 601.8L931.7 603.3L932.7 604.8L933.7 606.2L934.7 607.6L935.7 609L936.7 610.4L937.7 611.7L938.7 612.9L939.7 614.1L940.7 615.2L941.7 616.3L942.7 617.3L943.7 618.3L944.7 619.2L945.7 620.2L946.7 621.1L947.7 621.9L948.7 622.7L949.7 623.5L950.7 624.2L951.7 624.9L952.7 625.6L953.7 626.3L954.7 626.9L955.7 627.5L956.7 628.1L957.7 628.6L958.7 629.1L959.7 629.6L960.7 630L961.7 630.4L962.7 630.9L963.7 631.3L964.7 631.7L965.7 632.1L966.7 632.4L967.7 632.8L968.7 633.1L969.7 633.5L970.7 633.8L971.7 634.1L972.7 634.4L973.7 634.7L974.7 635L975.7 635.3L976.7 635.6L977.7 635.8L978.7 636.1L979.7 636.3L980.7 636.6L981.7 636.8L982.7 637.1L983.7 637.3L984.7 637.6L985.7 637.8L986.7 638L987.7 638.3L988.7 638.5L989.7 638.7L990.7 638.9L991.7 639.2L992.7 639.4L993.7 639.6L994.7 639.8L995.7 639.9L996.7 640.1L997.7 640.3L998.7 640.5L999.7 640.6L1000.7 640.8L1001.7 640.9L1002.7 641.1L1003.7 641.2L1004.7 641.4L1005.7 641.5L1006.7 641.6L1007.7 641.8L1008.7 641.9L1009.7 642L1010.7 642.2L1011.7 642.3L1012.7 642.4L1013.7 642.5L1014.7 642.6L1015.7 642.8L1016.7 642.9L1017.7 643L1018.7 643.1L1019.7 643.2L1020.7 643.3L1021.7 643.4L1022.7 643.5L1023.7 643.6L1024.7 643.7L1025.7 643.8L1026.7 643.9L1027.7 644L1028.7 644.1L1029.7 644.2L1030.7 644.2L1031.7 644.3L1032.7 644.4L1033.7 644.5L1034.7 644.6L1035.7 644.7L1036.7 644.8L1037.7 644.8L1038.7 644.9L1039.7 645L1040.7 645.1L1041.7 645.2L1042.7 645.2L1043.7 645.3L1044.7 645.4L1045.7 645.5L1046.7 645.5L1047.7 645.6L1048.7 645.7L1049.7 645.8L1050.7 645.8L1051.7 645.9L1052.7 645.9L1053.7 646L1054.7 646.1L1055.7 646.1L1056.7 646.2L1057.7 646.3L1058.7 646.3L1059.7 646.4L1060.7 646.4L1061.7 646.5L1062.7 646.5L1063.7 646.6L1064.7 646.7L1065.7 646.7L1066.7 646.8L1067.7 646.8L1068.7 646.9L1069.7 646.9L1070.7 647L1071.7 647L1072.7 647.1L1073.7 647.1L1074.7 647.2L1075.7 647.2L1076.7 647.3L1077.7 647.3L1078.7 647.4L1079.7 647.4L1080.7 647.5L1081.7 647.5L1082.7 647.6L1083.7 647.6L1084.7 647.6L1085.7 647.7L1086.7 647.7L1087.7 647.8L1088.7 647.8L1089.7 647.9L1090.7 647.9L1091.7 647.9L1092.7 648L1093.7 648L1094.7 648.1L1095.7 648.1L1096.7 648.1L1097.7 648.2L1098.7 648.2L1099.7 648.2L1100.7 648.3L1101.7 648.3L1102.7 648.3L1103.7 648.4L1104.7 648.4L1105.7 648.4L1106.7 648.5L1107.7 648.5L1108.7 648.5L1109.7 648.6L1110.7 648.6L1111.7 648.6L1112.7 648.7L1113.7 648.7L1114.7 648.7L1115.7 648.8L1116.7 648.8L1117.7 648.8L1118.7 648.8L1119.7 648.9L1120.7 648.9L1121.7 648.9L1122.7 649L1123.7 649L1124.7 649L1125.7 649.1L1126.7 649.1L1127.7 649.1L1128.7 649.1L1129.7 649.2L1130.7 649.2L1131.7 649.2L1132.7 649.3L1133.7 649.3L1134.7 649.3L1135.7 649.3L1136.7 649.4L1137.7 649.4L1138.7 649.4L1139.7 649.5L1140.7 649.5L1141.7 649.5L1142.7 649.5L1143.7 649.5L1143.7 656.1L1142.7 656.1L1141.7 656.1L1140.7 656.1L1139.7 656.1L1138.7 656L1137.7 656L1136.7 656L1135.7 656L1134.7 656L1133.7 655.9L1132.7 655.9L1131.7 655.9L1130.7 655.9L1129.7 655.8L1128.7 655.8L1127.7 655.8L1126.7 655.8L1125.7 655.7L1124.7 655.7L1123.7 655.7L1122.7 655.7L1121.7 655.6L1120.7 655.6L1119.7 655.6L1118.7 655.6L1117.7 655.5L1116.7 655.5L1115.7 655.5L1114.7 655.5L1113.7 655.4L1112.7 655.4L1111.7 655.4L1110.7 655.4L1109.7 655.3L1108.7 655.3L1107.7 655.3L1106.7 655.2L1105.7 655.2L1104.7 655.2L1103.7 655.2L1102.7 655.1L1101.7 655.1L1100.7 655.1L1099.7 655L1098.7 655L1097.7 655L1096.7 654.9L1095.7 654.9L1094.7 654.9L1093.7 654.8L1092.7 654.8L1091.7 654.7L1090.7 654.7L1089.7 654.7L1088.7 654.6L1087.7 654.6L1086.7 654.5L1085.7 654.5L1084.7 654.4L1083.7 654.4L1082.7 654.4L1081.7 654.3L1080.7 654.3L1079.7 654.2L1078.7 654.2L1077.7 654.1L1076.7 654.1L1075.7 654L1074.7 654L1073.7 653.9L1072.7 653.9L1071.7 653.8L1070.7 653.8L1069.7 653.7L1068.7 653.7L1067.7 653.6L1066.7 653.6L1065.7 653.5L1064.7 653.5L1063.7 653.4L1062.7 653.3L1061.7 653.3L1060.7 653.2L1059.7 653.2L1058.7 653.1L1057.7 653.1L1056.7 653L1055.7 652.9L1054.7 652.9L1053.7 652.8L1052.7 652.7L1051.7 652.7L1050.7 652.6L1049.7 652.6L1048.7 652.5L1047.7 652.4L1046.7 652.3L1045.7 652.3L1044.7 652.2L1043.7 652.1L1042.7 652L1041.7 652L1040.7 651.9L1039.7 651.8L1038.7 651.7L1037.7 651.6L1036.7 651.6L1035.7 651.5L1034.7 651.4L1033.7 651.3L1032.7 651.2L1031.7 651.1L1030.7 651L1029.7 651L1028.7 650.9L1027.7 650.8L1026.7 650.7L1025.7 650.6L1024.7 650.5L1023.7 650.4L1022.7 650.3L1021.7 650.2L1020.7 650.1L1019.7 650L1018.7 649.9L1017.7 649.8L1016.7 649.7L1015.7 649.6L1014.7 649.4L1013.7 649.3L1012.7 649.2L1011.7 649.1L1010.7 649L1009.7 648.8L1008.7 648.7L1007.7 648.6L1006.7 648.4L1005.7 648.3L1004.7 648.2L1003.7 648L1002.7 647.9L1001.7 647.7L1000.7 647.6L999.7 647.4L998.7 647.3L997.7 647.1L996.7 646.9L995.7 646.7L994.7 646.6L993.7 646.4L992.7 646.2L991.7 646L990.7 645.7L989.7 645.5L988.7 645.3L987.7 645.1L986.7 644.8L985.7 644.6L984.7 644.4L983.7 644.1L982.7 643.9L981.7 643.6L980.7 643.4L979.7 643.1L978.7 642.9L977.7 642.6L976.7 642.4L975.7 642.1L974.7 641.8L973.7 641.5L972.7 641.2L971.7 640.9L970.7 640.6L969.7 640.3L968.7 639.9L967.7 639.6L966.7 639.2L965.7 638.9L964.7 638.5L963.7 638.1L962.7 637.7L961.7 637.2L960.7 636.8L959.7 636.4L958.7 635.9L957.7 635.4L956.7 634.9L955.7 634.3L954.7 633.7L953.7 633.1L952.7 632.4L951.7 631.7L950.7 631L949.7 630.3L948.7 629.5L947.7 628.7L946.7 627.9L945.7 627L944.7 626L943.7 625.1L942.7 624.1L941.7 623.1L940.7 622L939.7 620.9L938.7 619.7L937.7 618.5L936.7 617.2L935.7 615.8L934.7 614.4L933.7 613L932.7 611.6L931.7 610.1L930.7 608.6L929.7 607.1L928.7 605.5L927.7 603.9L926.7 602.3L925.7 600.6L924.7 599L923.7 597.2L922.7 595.5L921.7 593.7L920.7 591.9L919.7 590L918.7 588.1L917.7 586.2L916.7 584.2L915.7 582.2L914.7 580.2L913.7 578.2L912.7 576.1L911.7 574.1L910.7 572.1L909.7 570.1L908.7 568.1L907.7 566.2L906.7 564.3L905.7 562.4L904.7 560.6L903.7 558.8L902.7 557.1L901.7 555.3L900.7 553.6L899.7 551.9L898.7 550.3L897.7 548.7L896.7 547.3L895.7 545.9L894.7 544.5L893.7 543.2L892.7 542L891.7 540.8L890.7 539.7L889.7 538.6L888.7 537.7L887.7 536.8L886.7 536.1L885.7 535.4L884.7 534.8L883.7 534.2L882.7 533.7L881.7 533.2L880.7 532.8L879.7 532.4L878.7 532.2L877.7 532.1L876.7 532Z"/>
<path class="bl" d="M739.7 529.1L740.7 529.1L741.7 529.1L742.7 529.1L743.7 529.1L744.7 529.1L745.7 529.1L746.7 529.1L747.7 529.1L748.7 529.1L749.7 529.1L750.7 529.1L751.7 529.1L752.7 529.1L753.7 529.1L754.7 529.1L755.7 529.1L756.7 529.1L757.7 529.1L758.7 529.1L759.7 529.1L760.7 529.1L761.7 529.1L762.7 529.1L763.7 529.1L764.7 529.1L765.7 529.1L766.7 529.1L767.7 529.1L768.7 529.1L769.7 529.1L770.7 529.1L771.7 529.1L772.7 529.1L773.7 529.1L774.7 529.1L775.7 529.1L776.7 529.1L777.7 529.1L778.7 529.1L779.7 529.1L780.7 529.1L781.7 529.1L782.7 529.1L783.7 529.1L784.7 529.1L785.7 529.1L786.7 529.1L787.7 529.1L788.7 529.1L789.7 529.1L790.7 529.1L791.7 529.1L792.7 529.1L793.7 529.1L794.7 529.1L795.7 529.1L796.7 529.1L797.7 529.1L798.7 529.1L799.7 529.1L800.7 529.1L801.7 529.1L802.7 529.1L803.7 529.1L804.7 529.1L805.7 529.1L806.7 529.1L807.7 529.1L808.7 529.1L809.7 529.1L810.7 529.1L811.7 529.1L812.7 529.1L813.7 529.1L814.7 529.1L815.7 529.1L816.7 529.1L817.7 529.1L818.7 529.1L819.7 529.1L820.7 529.1L821.7 529.1L822.7 529.1L823.7 529.1L824.7 529.1L825.7 529.1L826.7 529.1L827.7 529.1L828.7 529.1L829.7 529.1L830.7 529.1L831.7 529.1L832.7 529.1L833.7 529.1L834.7 529.1L835.7 529.1L836.7 529.1L837.7 529.1L838.7 529.1L839.7 529.1L840.7 529.1L841.7 529.1L842.7 529.1L843.7 529.1L844.7 529.1L845.7 529.1L846.7 529.1L847.7 529.1L848.7 529.1L849.7 529.1L850.7 529.1L851.7 529.1L852.7 529.1L853.7 529.1L854.7 529.1L855.7 529.1L856.7 529.1L857.7 529.1L858.7 529.1L859.7 529.1L860.7 529.1L861.7 529.1L862.7 529.1L863.7 529.1L864.7 529.1L865.7 529.1L866.7 529.1L867.7 529.1L868.7 529.1L869.7 529.1L870.7 529.1L871.7 529.1L872.7 529.1L873.7 529.1L874.7 529.1L875.7 529.1L876.7 529.1L877.7 529.1L878.7 529.3L879.7 529.4L880.7 529.8L881.7 530.2L882.7 530.7L883.7 531.1L884.7 531.7L885.7 532.2L886.7 532.9L887.7 533.6L888.7 534.4L889.7 535.4L890.7 536.4L891.7 537.5L892.7 538.7L893.7 539.9L894.7 541.1L895.7 542.5L896.7 543.9L897.7 545.3L898.7 546.9L899.7 548.5L900.7 550.2L901.7 551.9L902.7 553.7L903.7 555.4L904.7 557.2L905.7 559L906.7 560.9L907.7 562.8L908.7 564.7L909.7 566.7L910.7 568.7L911.7 570.7L912.7 572.7L913.7 574.8L914.7 576.8L915.7 578.8L916.7 580.8L917.7 582.8L918.7 584.7L919.7 586.6L920.7 588.5L921.7 590.3L922.7 592.1L923.7 593.8L924.7 595.6L925.7 597.2L926.7 598.9L927.7 600.5L928.7 602.1L929.7 603.7L930.7 605.2L931.7 606.7L932.7 608.2L933.7 609.6L934.7 611L935.7 612.4L936.7 613.8L937.7 615.1L938.7 616.3L939.7 617.5L940.7 618.6L941.7 619.7L942.7 620.7L943.7 621.7L944.7 622.6L945.7 623.6L946.7 624.5L947.7 625.3L948.7 626.1L949.7 626.9L950.7 627.6L951.7 628.3L952.7 629L953.7 629.7L954.7 630.3L955.7 630.9L956.7 631.5L957.7 632L958.7 632.5L959.7 633L960.7 633.4L961.7 633.8L962.7 634.3L963.7 634.7L964.7 635.1L965.7 635.5L966.7 635.8L967.7 636.2L968.7 636.5L969.7 636.9L970.7 637.2L971.7 637.5L972.7 637.8L973.7 638.1L974.7 638.4L975.7 638.7L976.7 639L977.7 639.2L978.7 639.5L979.7 639.7L980.7 640L981.7 640.2L982.7 640.5L983.7 640.7L984.7 641L985.7 641.2L986.7 641.4L987.7 641.7L988.7 641.9L989.7 642.1L990.7 642.3L991.7 642.6L992.7 642.8L993.7 643L994.7 643.2L995.7 643.3L996.7 643.5L997.7 643.7L998.7 643.9L999.7 644L1000.7 644.2L1001.7 644.3L1002.7 644.5L1003.7 644.6L1004.7 644.8L1005.7 644.9L1006.7 645L1007.7 645.2L1008.7 645.3L1009.7 645.4L1010.7 645.6L1011.7 645.7L1012.7 645.8L1013.7 645.9L1014.7 646L1015.7 646.2L1016.7 646.3L1017.7 646.4L1018.7 646.5L1019.7 646.6L1020.7 646.7L1021.7 646.8L1022.7 646.9L1023.7 647L1024.7 647.1L1025.7 647.2L1026.7 647.3L1027.7 647.4L1028.7 647.5L1029.7 647.6L1030.7 647.6L1031.7 647.7L1032.7 647.8L1033.7 647.9L1034.7 648L1035.7 648.1L1036.7 648.2L1037.7 648.2L1038.7 648.3L1039.7 648.4L1040.7 648.5L1041.7 648.6L1042.7 648.6L1043.7 648.7L1044.7 648.8L1045.7 648.9L1046.7 648.9L1047.7 649L1048.7 649.1L1049.7 649.2L1050.7 649.2L1051.7 649.3L1052.7 649.3L1053.7 649.4L1054.7 649.5L1055.7 649.5L1056.7 649.6L1057.7 649.7L1058.7 649.7L1059.7 649.8L1060.7 649.8L1061.7 649.9L1062.7 649.9L1063.7 650L1064.7 650.1L1065.7 650.1L1066.7 650.2L1067.7 650.2L1068.7 650.3L1069.7 650.3L1070.7 650.4L1071.7 650.4L1072.7 650.5L1073.7 650.5L1074.7 650.6L1075.7 650.6L1076.7 650.7L1077.7 650.7L1078.7 650.8L1079.7 650.8L1080.7 650.9L1081.7 650.9L1082.7 651L1083.7 651L1084.7 651L1085.7 651.1L1086.7 651.1L1087.7 651.2L1088.7 651.2L1089.7 651.3L1090.7 651.3L1091.7 651.3L1092.7 651.4L1093.7 651.4L1094.7 651.5L1095.7 651.5L1096.7 651.5L1097.7 651.6L1098.7 651.6L1099.7 651.6L1100.7 651.7L1101.7 651.7L1102.7 651.7L1103.7 651.8L1104.7 651.8L1105.7 651.8L1106.7 651.9L1107.7 651.9L1108.7 651.9L1109.7 652L1110.7 652L1111.7 652L1112.7 652L1113.7 652.1L1114.7 652.1L1115.7 652.1L1116.7 652.1L1117.7 652.2L1118.7 652.2L1119.7 652.2L1120.7 652.3L1121.7 652.3L1122.7 652.3L1123.7 652.3L1124.7 652.4L1125.7 652.4L1126.7 652.4L1127.7 652.4L1128.7 652.5L1129.7 652.5L1130.7 652.5L1131.7 652.6L1132.7 652.6L1133.7 652.6L1134.7 652.6L1135.7 652.7L1136.7 652.7L1137.7 652.7L1138.7 652.7L1139.7 652.8L1140.7 652.8L1141.7 652.8L1142.7 652.8L1143.7 652.8"/>
<g class="lt"><path d="M741.7 922.9V998.9"/><path d="M745.9 840.9V916.9"/><path d="M750 791.8V867.8"/><path d="M753.9 882V958"/><path d="M757.9 875.6V951.6"/><path d="M762 865.6V941.6"/><path d="M765.9 913.7V989.7"/><path d="M770.1 905.7V981.7"/><path d="M773.9 809.7V885.7"/><path d="M778.1 863.1V939.1"/><path d="M781.7 863.1V939.1"/><path d="M785.1 864.8V940.8"/><path d="M788.9 897.8V973.8"/><path d="M792.9 820.8V896.8"/><path d="M797.1 858.6V934.6"/><path d="M801.1 865.3V941.3"/><path d="M805.1 896.8V972.8"/><path d="M809.3 882.3V958.3"/><path d="M813.1 881.4V957.4"/><path d="M816.8 907.3V983.3"/><path d="M820.8 1026.2V1102.2"/><path d="M828.8 789.3V865.3"/><path d="M833 871.4V947.4"/><path d="M835.8 960.8V1036.8"/><path d="M839.9 922.4V998.4"/><path d="M843.9 902.3V978.3"/><path d="M848 874.3V950.3"/><path d="M851.9 818.8V894.8"/><path d="M855.9 767.2V843.2"/><path d="M863.9 784.1V860.1"/><path d="M868.1 790.8V866.8"/><path d="M871.1 818.8V894.8"/><path d="M875 835.5V911.5"/><path d="M878.8 871.4V947.4"/><path d="M882.8 843.5V919.5"/><path d="M887 859.7V935.7"/><path d="M891 856.4V932.4"/><path d="M895 895.6V971.6"/><path d="M899.2 865.6V941.6"/><path d="M903 866.9V942.9"/><path d="M906.7 937.9V1013.9"/><path d="M910.9 899.5V975.5"/><path d="M915.1 835.5V911.5"/><path d="M918.7 837.2V913.2"/><path d="M921.9 822.2V898.2"/><path d="M925.9 864.3V940.3"/><path d="M929.9 864.3V940.3"/><path d="M933.9 839.4V915.4"/><path d="M937.9 900.3V976.3"/><path d="M942 859.2V935.2"/><path d="M946 897.3V973.3"/><path d="M950 880.6V956.6"/><path d="M954 891.5V967.5"/><path d="M958 919.3V995.3"/><path d="M961 856.7V932.7"/><path d="M965.2 884.3V960.3"/><path d="M969.2 895.3V971.3"/><path d="M973 909V985"/><path d="M977 877.6V953.6"/><path d="M981 920.7V996.7"/><path d="M985.2 882.6V958.6"/><path d="M989 882.6V958.6"/><path d="M993 904V980"/><path d="M997 907V983"/><path d="M1001.1 878.9V954.9"/><path d="M1003.9 866.4V942.4"/><path d="M1008.1 854.7V930.7"/><path d="M1011.9 864.3V940.3"/><path d="M1016.1 883.1V959.1"/><path d="M1019.9 859.7V935.7"/><path d="M1023.9 848.4V924.4"/><path d="M1027.9 888.1V964.1"/><path d="M1031.9 866.4V942.4"/><path d="M1034.4 875.6V951.6"/><path d="M1040 852.2V928.2"/><path d="M1043.1 890.3V966.3"/><path d="M1047 880.6V956.6"/><path d="M1051 894.3V970.3"/><path d="M1055 872.6V948.6"/><path d="M1059 848.4V924.4"/><path d="M1063 820.2V896.2"/><path d="M1067 846.4V922.4"/><path d="M1071 829.2V905.2"/><path d="M1075 881.1V957.1"/><path d="M1078 858.9V934.9"/><path d="M1082 824.2V900.2"/><path d="M1086 884V960"/><path d="M1090 840.2V916.2"/><path d="M1094.1 859.2V935.2"/><path d="M1098.1 860.6V936.6"/><path d="M1102.1 851.4V927.4"/><path d="M1106.1 858.6V934.6"/><path d="M1110.1 829.4V905.4"/><path d="M1114.1 862.2V938.2"/><path d="M1118.1 861.4V937.4"/><path d="M1121.3 871.4V947.4"/><path d="M1124.9 917.3V993.3"/><path d="M1129 898.1V974.1"/><path d="M1133 885.6V961.6"/><path d="M1137 890.1V966.1"/><path d="M1140.1 882.6V958.6"/></g>
<g class="dk"><path d="M741.7 950.9V970.9"/><path d="M745.9 868.9V888.9"/><path d="M750 819.8V839.8"/><path d="M753.9 910V930"/><path d="M757.9 903.6V923.6"/><path d="M762 893.6V913.6"/><path d="M765.9 941.7V961.7"/><path d="M770.1 933.7V953.7"/><path d="M773.9 837.7V857.7"/><path d="M778.1 891.1V911.1"/><path d="M781.7 891.1V911.1"/><path d="M785.1 892.8V912.8"/><path d="M788.9 925.8V945.8"/><path d="M792.9 848.8V868.8"/><path d="M797.1 886.6V906.6"/><path d="M801.1 893.3V913.3"/><path d="M805.1 924.8V944.8"/><path d="M809.3 910.3V930.3"/><path d="M813.1 909.4V929.4"/><path d="M816.8 935.3V955.3"/><path d="M820.8 1054.2V1074.2"/><path d="M828.8 817.3V837.3"/><path d="M833 899.4V919.4"/><path d="M835.8 988.8V1008.8"/><path d="M839.9 950.4V970.4"/><path d="M843.9 930.3V950.3"/><path d="M848 902.3V922.3"/><path d="M851.9 846.8V866.8"/><path d="M855.9 795.2V815.2"/><path d="M863.9 812.1V832.1"/><path d="M868.1 818.8V838.8"/><path d="M871.1 846.8V866.8"/><path d="M875 863.5V883.5"/><path d="M878.8 899.4V919.4"/><path d="M882.8 871.5V891.5"/><path d="M887 887.7V907.7"/><path d="M891 884.4V904.4"/><path d="M895 923.6V943.6"/><path d="M899.2 893.6V913.6"/><path d="M903 894.9V914.9"/><path d="M906.7 965.9V985.9"/><path d="M910.9 927.5V947.5"/><path d="M915.1 863.5V883.5"/><path d="M918.7 865.2V885.2"/><path d="M921.9 850.2V870.2"/><path d="M925.9 892.3V912.3"/><path d="M929.9 892.3V912.3"/><path d="M933.9 867.4V887.4"/><path d="M937.9 928.3V948.3"/><path d="M942 887.2V907.2"/><path d="M946 925.3V945.3"/><path d="M950 908.6V928.6"/><path d="M954 919.5V939.5"/><path d="M958 947.3V967.3"/><path d="M961 884.7V904.7"/><path d="M965.2 912.3V932.3"/><path d="M969.2 923.3V943.3"/><path d="M973 937V957"/><path d="M977 905.6V925.6"/><path d="M981 948.7V968.7"/><path d="M985.2 910.6V930.6"/><path d="M989 910.6V930.6"/><path d="M993 932V952"/><path d="M997 935V955"/><path d="M1001.1 906.9V926.9"/><path d="M1003.9 894.4V914.4"/><path d="M1008.1 882.7V902.7"/><path d="M1011.9 892.3V912.3"/><path d="M1016.1 911.1V931.1"/><path d="M1019.9 887.7V907.7"/><path d="M1023.9 876.4V896.4"/><path d="M1027.9 916.1V936.1"/><path d="M1031.9 894.4V914.4"/><path d="M1034.4 903.6V923.6"/><path d="M1040 880.2V900.2"/><path d="M1043.1 918.3V938.3"/><path d="M1047 908.6V928.6"/><path d="M1051 922.3V942.3"/><path d="M1055 900.6V920.6"/><path d="M1059 876.4V896.4"/><path d="M1063 848.2V868.2"/><path d="M1067 874.4V894.4"/><path d="M1071 857.2V877.2"/><path d="M1075 909.1V929.1"/><path d="M1078 886.9V906.9"/><path d="M1082 852.2V872.2"/><path d="M1086 912V932"/><path d="M1090 868.2V888.2"/><path d="M1094.1 887.2V907.2"/><path d="M1098.1 888.6V908.6"/><path d="M1102.1 879.4V899.4"/><path d="M1106.1 886.6V906.6"/><path d="M1110.1 857.4V877.4"/><path d="M1114.1 890.2V910.2"/><path d="M1118.1 889.4V909.4"/><path d="M1121.3 899.4V919.4"/><path d="M1124.9 945.3V965.3"/><path d="M1129 926.1V946.1"/><path d="M1133 913.6V933.6"/><path d="M1137 918.1V938.1"/><path d="M1140.1 910.6V930.6"/></g>
<path class="zl" d="M723.4 907.4H1159.4"/>
<path class="th" d="M723.4 380H1160.9"/>
<path d="M1160.5 382.5v14" stroke="#e2e2e2" stroke-width="0.8" fill="none"/>
<rect x="1160" y="379.3" width="2.1" height="3.4" fill="#000"/>
<path class="th" d="M723.4 749.9H1160.9"/>
<path d="M1160.5 752.4v14" stroke="#e2e2e2" stroke-width="0.8" fill="none"/>
<rect x="1160" y="749.2" width="2.1" height="3.4" fill="#000"/>
<path class="sp" d="M723.4 9.6V1120H1161.9"/>
<path class="sp" d="M708.6 144.7H723.4M708.6 288.5H723.4M708.6 426.9H723.4M708.6 529.1H723.4M708.6 631.3H723.4M708.6 733.3H723.4M708.6 799.1H723.4M708.6 907.4H723.4M708.6 1017.3H723.4M740.2 1120V1135M926 1120V1135M1112.6 1120V1135"/>
<text x="694" y="159.3" text-anchor="end">20</text>
<text x="694" y="303.1" text-anchor="end">0</text>
<text x="694" y="441.5" text-anchor="end">5</text>
<text x="694" y="543.7" text-anchor="end">0</text>
<text x="694" y="645.9" text-anchor="end">−5</text>
<text x="694" y="747.9" text-anchor="end">−10</text>
<text x="694" y="813.7" text-anchor="end">5</text>
<text x="694" y="922" text-anchor="end">0</text>
<text x="694" y="1031.9" text-anchor="end">−5</text>
<text x="740.2" y="1180.3" text-anchor="middle">0.8</text>
<text x="926" y="1180.3" text-anchor="middle">0.9</text>
<text x="1112.6" y="1180.3" text-anchor="middle">1.0</text>
<text x="943" y="1237.6" text-anchor="middle">BJD−2460211</text>
<text x="745" y="63.9" style="letter-spacing:0.9px"><tspan class="b">KeplerCam</tspan> <tspan class="i" dx="1.3">z</tspan></text>
</g>
<g>
<g class="lt"><path d="M1268 321.1V340.6"/><path d="M1272.2 333.3V352.8"/><path d="M1277 312.1V331.7"/><path d="M1280.9 332.4V351.9"/><path d="M1285.9 316.2V335.8"/><path d="M1289.7 332.5V352.1"/><path d="M1294.7 315.8V335.3"/><path d="M1299.2 316.6V336.2"/><path d="M1303.9 324.7V344.3"/><path d="M1307.9 304.5V324"/><path d="M1312.8 324.6V344.2"/><path d="M1316.8 325.3V344.9"/><path d="M1321.8 313.1V333.1"/><path d="M1325.8 307.7V329.6"/><path d="M1328.8 322.1V347.3"/><path d="M1334 300V321.9"/><path d="M1338 317.4V337.1"/><path d="M1355.8 326.8V348.7"/><path d="M1361 321.3V341.2"/><path d="M1364.9 321.5V341.3"/><path d="M1369.9 327.4V347.4"/><path d="M1373.9 328.4V348.3"/><path d="M1378.9 336.6V356.5"/><path d="M1382.9 332.6V352.7"/><path d="M1387.7 329.5V349.6"/><path d="M1391.9 324.2V345.2"/><path d="M1396.1 333.6V353.8"/><path d="M1399.9 327.9V348"/><path d="M1404.8 332.9V353.1"/><path d="M1408.9 321.5V341.8"/><path d="M1413.8 332.7V353.2"/><path d="M1418 326.2V346.6"/><path d="M1422.8 329.4V349.7"/><path d="M1427 338.3V358.7"/><path d="M1432 337.3V357.7"/><path d="M1436 331V351.5"/><path d="M1440.8 336.4V356.8"/><path d="M1445 342.3V363.4"/><path d="M1448.7 326.5V347.1"/><path d="M1452.9 320.5V341.1"/><path d="M1458 330.2V351"/><path d="M1462 336.3V357"/><path d="M1466.9 324.1V344.8"/><path d="M1471.2 327.3V348.2"/><path d="M1475.9 342.3V363.3"/><path d="M1480.9 315.4V336.5"/><path d="M1485.1 311.3V332.4"/><path d="M1489.9 321.7V343"/><path d="M1492.9 314.8V336.6"/><path d="M1497.1 329.8V351.1"/><path d="M1501.9 312.2V333.3"/><path d="M1505.9 310.6V332.2"/><path d="M1511 324.5V346.1"/><path d="M1515.5 320.1V341.8"/><path d="M1520 309.3V331"/><path d="M1525 312.5V334.3"/><path d="M1529.1 292.1V314"/><path d="M1533.2 290.6V313.9"/><path d="M1538.1 297.1V319.3"/><path d="M1541.9 301.9V323.9"/><path d="M1546.1 289.9V316.3"/><path d="M1551.1 317.5V340"/><path d="M1554.8 306.8V329.2"/><path d="M1559.9 303.9V326.3"/><path d="M1565 311.1V334.1"/><path d="M1569 300.9V324.1"/><path d="M1572.8 294.5V319.3"/><path d="M1577 282.3V305.8"/><path d="M1586.2 88.7V112.3"/><path d="M1594.8 32.4V56.4"/><path d="M1599 37.9V62.2"/><path d="M1603.7 62.8V87.2"/><path d="M1607.9 80.2V104.9"/><path d="M1612.9 87.8V112.6"/><path d="M1617 115.4V140.2"/><path d="M1622.1 139.7V165.2"/><path d="M1625.9 141.4V167.3"/><path d="M1630.4 142.4V170.2"/><path d="M1635.1 176.8V202.9"/><path d="M1639.1 189.9V216.2"/><path d="M1643.3 225.5V252.3"/><path d="M1647.9 215.3V242.2"/><path d="M1652.4 219.1V246.5"/><path d="M1656.8 225.8V253.4"/><path d="M1661.8 212.3V240.4"/><path d="M1666 262.2V293.6"/></g>
<g class="dk"><path d="M1268 326.5V335.2"/><path d="M1272.2 338.7V347.4"/><path d="M1277 317.4V326.4"/><path d="M1280.9 337.9V346.5"/><path d="M1285.9 321.5V330.4"/><path d="M1289.7 337.9V346.8"/><path d="M1294.7 321.1V330"/><path d="M1299.2 321.9V330.9"/><path d="M1303.9 330V339"/><path d="M1307.9 309.8V318.7"/><path d="M1312.8 329.9V338.9"/><path d="M1316.8 330.7V339.6"/><path d="M1321.8 318.3V327.9"/><path d="M1325.8 312V325.2"/><path d="M1328.8 325.6V343.8"/><path d="M1334 304.4V317.5"/><path d="M1338 322.7V331.8"/><path d="M1355.8 331.1V344.4"/><path d="M1361 326.4V336.1"/><path d="M1364.9 326.7V336.1"/><path d="M1369.9 332.6V342.2"/><path d="M1373.9 333.6V343.1"/><path d="M1378.9 341.8V351.4"/><path d="M1382.9 337.7V347.6"/><path d="M1387.7 334.6V344.5"/><path d="M1391.9 328.9V340.5"/><path d="M1396.1 338.7V348.7"/><path d="M1399.9 333V342.9"/><path d="M1404.8 337.9V348.1"/><path d="M1408.9 326.4V336.9"/><path d="M1413.8 337.6V348.3"/><path d="M1418 331.1V341.6"/><path d="M1422.8 334.4V344.7"/><path d="M1427 343.3V353.8"/><path d="M1432 342.2V352.8"/><path d="M1436 335.8V346.7"/><path d="M1440.8 341.3V351.9"/><path d="M1445 346.9V358.8"/><path d="M1448.7 331.3V342.2"/><path d="M1452.9 325.4V336.2"/><path d="M1458 334.9V346.3"/><path d="M1462 341.2V352.1"/><path d="M1466.9 328.9V340.1"/><path d="M1471.2 331.9V343.5"/><path d="M1475.9 347V358.6"/><path d="M1480.9 320V331.9"/><path d="M1485.1 315.9V327.8"/><path d="M1489.9 326.2V338.5"/><path d="M1492.9 319.2V332.3"/><path d="M1497.1 334.4V346.6"/><path d="M1501.9 316.9V328.6"/><path d="M1505.9 315.1V327.7"/><path d="M1511 328.9V341.6"/><path d="M1515.5 324.4V337.5"/><path d="M1520 313.6V326.6"/><path d="M1525 316.8V330"/><path d="M1529.1 296.5V309.6"/><path d="M1533.2 294.6V310"/><path d="M1538.1 301.3V315.1"/><path d="M1541.9 306.2V319.6"/><path d="M1546.1 293.2V313"/><path d="M1551.1 321.7V335.8"/><path d="M1554.8 310.9V325"/><path d="M1559.9 308.1V322.1"/><path d="M1565 315.1V330.1"/><path d="M1569 304.9V320.1"/><path d="M1572.8 298.1V315.7"/><path d="M1577 286.2V301.9"/><path d="M1586.2 92.5V108.5"/><path d="M1594.8 36.2V52.6"/><path d="M1599 41.6V58.5"/><path d="M1603.7 66.4V83.5"/><path d="M1607.9 83.9V101.2"/><path d="M1612.9 91.4V109"/><path d="M1617 118.9V136.7"/><path d="M1622.1 143.1V161.8"/><path d="M1625.9 144.7V163.9"/><path d="M1630.4 145.4V167.1"/><path d="M1635.1 180.1V199.6"/><path d="M1639.1 193.2V212.8"/><path d="M1643.3 228.8V249.1"/><path d="M1647.9 218.5V239"/><path d="M1652.4 222.3V243.4"/><path d="M1656.8 228.9V250.3"/><path d="M1661.8 215.3V237.4"/><path d="M1666 264.8V291"/></g>
<path class="or" d="M1265 300.9L1268 298.6L1272.1 298.1L1275.1 300.5L1278.6 304.7L1283.4 307.2L1289.3 307.7L1294 306.2L1298.7 305.1L1302.9 301.1L1305.8 307.1L1308.8 313L1311.7 310.8L1315.3 306.1L1319.4 303.9L1323.6 302.8L1325.9 302.3L1329.5 304.2L1333 307.8L1337.7 310.9L1343.7 311.8L1349.6 312L1355.5 312.3L1360.2 313.7L1364.9 309.3L1368.5 314.2L1371.4 320.2L1374.4 322.7L1377.9 315.8L1380.3 313.6L1382.7 316.7L1385 313.8L1388 311.6L1390.9 318.8L1393.9 321.4L1396.8 319.2L1400.4 315.2L1404.5 311.4L1407.5 316.3L1411 320L1414.6 319.1L1418.1 317L1422.3 313.7L1425.2 323.4L1427.6 331.8L1431.1 322.7L1433.5 326.4L1436.4 329.1L1438.8 322.2L1440.6 316.4L1442.9 324.9L1445.3 329.3L1448.9 318.4L1451.2 315.1L1453 320L1457.7 322.9L1461.3 325.7L1464.8 322.6L1468.4 327.9L1471.3 318.9L1475.5 330.4L1479 327.7L1483.7 317.8L1488.5 322.7L1493.2 327.6L1497.9 328.5L1502.6 324.2L1506.2 320.3L1509.7 326.8L1512.1 329.4L1515.7 326.2L1520.4 317.9L1523.9 315.6"/>
<path class="rd" d="M1265 326.8L1268 324.4L1272.1 323.8L1275.1 326.2L1278.6 330.3L1283.4 332.7L1289.3 333L1294 331.5L1298.7 330.3L1302.9 326.2L1305.8 332.1L1308.8 338L1311.7 335.7L1315.3 330.9L1319.4 328.6L1323.6 327.4L1325.9 326.8L1329.5 328.6L1333 332.1L1337.7 335.1L1343.7 335.7L1349.6 335.7L1355.5 335.7L1360.2 336.8L1364.9 332.1L1368.5 336.8L1371.4 342.7L1374.4 345.1L1377.9 338L1380.3 335.7L1382.7 338.6L1385 335.7L1388 333.3L1390.9 340.4L1393.9 342.7L1396.8 340.4L1400.4 336.2L1404.5 332.1L1407.5 336.8L1411 340.4L1414.6 339.2L1418.1 336.8L1422.3 333.3L1425.2 342.7L1427.6 351L1431.1 341.6L1433.5 345.1L1436.4 347.5L1438.8 340.4L1440.6 334.5L1442.9 342.7L1445.3 346.9L1448.9 335.7L1451.2 332.1L1453 336.8L1457.7 339.2L1461.3 341.6L1464.8 338L1468.4 342.7L1471.3 333.3L1475.5 343.9L1479 340.4L1483.7 328.6L1488.5 330.9L1493.2 333.3L1497.9 332.1L1502.6 326.2L1506.2 321.5L1509.7 327.4L1512.1 329.7L1515.7 326.2L1520.4 317.9L1523.9 315.6L1527.5 320.3L1531 321.5L1534.6 317.9L1538.1 316.7L1541.7 319.1L1545.2 320.3L1548.7 313.2L1553.5 309.1L1556.4 312L1559.4 322.6L1561.7 326.2L1564.1 316.7L1566.5 309.6L1568.8 303.1L1571.2 297L1573.3 290.5L1575.6 271.5L1577.2 259.4L1580.4 211.7L1584.1 163.7L1587.4 115.7L1591.2 68L1593.2 49.3L1594.7 39.1L1596.5 31.2L1598.2 28.3L1599.9 30L1601.5 39.9L1603.6 62.8L1606.7 79.4L1609.8 93.9L1613 112.6L1615.7 137.5L1618.1 145.8L1621.3 156.2L1624.4 177L1626.5 184.2L1630.6 181.1L1633.7 191.5L1636.8 208.1L1641 213.3L1645.1 216.4L1649.3 226.8L1653.5 235.1L1656.6 243.4L1659.7 237.2L1663.8 238.2L1667.4 243"/>
<g class="lt"><path d="M1268 623.9V689.5"/><path d="M1272.2 666.6V732.1"/><path d="M1277 579.4V645.4"/><path d="M1280.9 637.6V703"/><path d="M1285.9 577.9V643.8"/><path d="M1289.7 632.3V698.2"/><path d="M1294.7 581V646.8"/><path d="M1299.2 588.5V654.4"/><path d="M1303.9 620.5V686.5"/><path d="M1307.9 525.3V591.1"/><path d="M1312.8 599.3V665.2"/><path d="M1316.8 615.5V681.4"/><path d="M1321.8 581.3V648.4"/><path d="M1325.8 566.2V639.8"/><path d="M1328.8 609.5V694.5"/><path d="M1334 519.9V593.3"/><path d="M1338 569.8V636"/><path d="M1355.8 596.6V670.1"/><path d="M1361 576.2V643.2"/><path d="M1364.9 589.2V655.9"/><path d="M1369.9 583.3V650.3"/><path d="M1373.9 568.9V635.7"/><path d="M1378.9 621.2V688.1"/><path d="M1382.9 602.9V670.4"/><path d="M1387.7 607.8V675.3"/><path d="M1391.9 563.5V634"/><path d="M1396.1 595V662.7"/><path d="M1399.9 589.2V656.7"/><path d="M1404.8 619.4V687.3"/><path d="M1408.9 560.5V629"/><path d="M1413.8 593.4V662.1"/><path d="M1418 579V647.4"/><path d="M1422.8 595.1V663.3"/><path d="M1427 577.5V646"/><path d="M1432 592.9V661.4"/><path d="M1436 556V625.2"/><path d="M1440.8 612.4V681"/><path d="M1445 593.9V664.9"/><path d="M1448.7 573.6V642.8"/><path d="M1452.9 551.4V620.6"/><path d="M1458 572V642"/><path d="M1462 586.3V655.6"/><path d="M1466.9 543V612.7"/><path d="M1471.2 575.1V645.5"/><path d="M1475.9 589.6V660.1"/><path d="M1480.9 520.4V591.4"/><path d="M1485.1 521.7V592.8"/><path d="M1489.9 539.5V611.4"/><path d="M1492.9 506.2V579.6"/><path d="M1497.1 553V624.6"/><path d="M1501.9 505.7V576.3"/><path d="M1505.9 514.8V587.2"/><path d="M1511 536V608.5"/><path d="M1515.5 527.2V600.4"/><path d="M1520 516.8V589.9"/><path d="M1525 533.2V606.7"/><path d="M1529.1 451.9V525.4"/><path d="M1533.2 452.1V530.4"/><path d="M1538.1 482.2V556.9"/><path d="M1541.9 490.1V564.2"/><path d="M1546.1 452.2V541"/><path d="M1551.1 569.8V645.3"/><path d="M1554.8 536.2V611.5"/><path d="M1559.9 482.6V557.7"/><path d="M1565 537.6V615"/><path d="M1569 541.9V619.8"/><path d="M1572.8 556.2V639.5"/><path d="M1577 618.7V697.6"/><path d="M1586.2 396.4V475.9"/><path d="M1594.8 528V608.5"/><path d="M1599 578V659.7"/><path d="M1603.7 546.9V628.9"/><path d="M1607.9 533.4V616.2"/><path d="M1612.9 466.7V550.1"/><path d="M1617 458.3V541.9"/><path d="M1622.1 475V560.9"/><path d="M1625.9 410.8V498"/><path d="M1630.4 417.5V510.9"/><path d="M1635.1 474.6V562.4"/><path d="M1639.1 477.6V565.9"/><path d="M1643.3 583.7V673.7"/><path d="M1647.9 521V611.5"/><path d="M1652.4 501.4V593.4"/><path d="M1656.8 490.4V583.3"/><path d="M1661.8 462.8V557.3"/><path d="M1666 619.1V724.8"/></g>
<g class="dk"><path d="M1268 642.1V671.3"/><path d="M1272.2 684.7V713.9"/><path d="M1277 597.3V627.6"/><path d="M1280.9 655.8V684.7"/><path d="M1285.9 595.9V625.8"/><path d="M1289.7 650.3V680.2"/><path d="M1294.7 599V628.7"/><path d="M1299.2 606.4V636.5"/><path d="M1303.9 638.4V668.6"/><path d="M1307.9 543.4V573.1"/><path d="M1312.8 617.2V647.2"/><path d="M1316.8 633.4V663.5"/><path d="M1321.8 598.6V631.1"/><path d="M1325.8 580.8V625.2"/><path d="M1328.8 621.3V682.7"/><path d="M1334 534.6V578.7"/><path d="M1338 587.6V618.3"/><path d="M1355.8 611.1V655.6"/><path d="M1361 593.5V626"/><path d="M1364.9 606.7V638.4"/><path d="M1369.9 600.6V632.9"/><path d="M1373.9 586.4V618.2"/><path d="M1378.9 638.6V670.8"/><path d="M1382.9 620V653.3"/><path d="M1387.7 624.9V658.2"/><path d="M1391.9 579.2V618.2"/><path d="M1396.1 611.9V645.7"/><path d="M1399.9 606.3V639.6"/><path d="M1404.8 636.3V670.4"/><path d="M1408.9 577.1V612.4"/><path d="M1413.8 609.9V645.6"/><path d="M1418 595.6V630.8"/><path d="M1422.8 611.9V646.5"/><path d="M1427 594V629.5"/><path d="M1432 609.5V644.9"/><path d="M1436 572.3V608.9"/><path d="M1440.8 628.9V664.5"/><path d="M1445 609.5V649.3"/><path d="M1448.7 589.8V626.6"/><path d="M1452.9 567.7V604.3"/><path d="M1458 587.9V626.1"/><path d="M1462 602.5V639.4"/><path d="M1466.9 559V596.7"/><path d="M1471.2 590.9V629.7"/><path d="M1475.9 605.3V644.3"/><path d="M1480.9 535.9V575.9"/><path d="M1485.1 537.1V577.3"/><path d="M1489.9 554.7V596.2"/><path d="M1492.9 520.9V565"/><path d="M1497.1 568.3V609.3"/><path d="M1501.9 521.3V560.7"/><path d="M1505.9 529.9V572.1"/><path d="M1511 550.9V593.5"/><path d="M1515.5 542V585.7"/><path d="M1520 531.5V575.1"/><path d="M1525 547.8V592.1"/><path d="M1529.1 466.5V510.8"/><path d="M1533.2 465.4V517.1"/><path d="M1538.1 496.4V542.6"/><path d="M1541.9 504.6V549.8"/><path d="M1546.1 463.3V529.9"/><path d="M1551.1 583.8V631.3"/><path d="M1554.8 550.3V597.5"/><path d="M1559.9 496.7V543.6"/><path d="M1565 551.1V601.6"/><path d="M1569 555.2V606.5"/><path d="M1572.8 568.3V627.4"/><path d="M1577 631.8V684.5"/><path d="M1586.2 409.4V462.9"/><path d="M1594.8 540.7V595.9"/><path d="M1599 590.5V647.3"/><path d="M1603.7 559.3V616.6"/><path d="M1607.9 545.6V604"/><path d="M1612.9 478.8V538"/><path d="M1617 470.3V529.9"/><path d="M1622.1 486.6V549.3"/><path d="M1625.9 422.1V486.6"/><path d="M1630.4 427.8V500.5"/><path d="M1635.1 485.8V551.1"/><path d="M1639.1 488.7V554.7"/><path d="M1643.3 594.5V662.8"/><path d="M1647.9 531.8V600.8"/><path d="M1652.4 511.9V582.8"/><path d="M1656.8 500.8V572.8"/><path d="M1661.8 473.1V547"/><path d="M1666 628V715.9"/></g>
<path class="bd" d="M1264.5 630.6L1265.5 630.5L1266.5 630.4L1267.5 630.3L1268.5 630.3L1269.5 630.2L1270.5 630.1L1271.5 630.1L1272.5 630L1273.5 629.9L1274.5 629.8L1275.5 629.8L1276.5 629.7L1277.5 629.6L1278.5 629.5L1279.5 629.5L1280.5 629.4L1281.5 629.3L1282.5 629.3L1283.5 629.2L1284.5 629.1L1285.5 629L1286.5 629L1287.5 628.9L1288.5 628.8L1289.5 628.7L1290.5 628.7L1291.5 628.6L1292.5 628.5L1293.5 628.5L1294.5 628.4L1295.5 628.3L1296.5 628.3L1297.5 628.2L1298.5 628.1L1299.5 628.1L1300.5 628L1301.5 627.9L1302.5 627.8L1303.5 627.8L1304.5 627.7L1305.5 627.6L1306.5 627.5L1307.5 627.4L1308.5 627.3L1309.5 627.2L1310.5 627.1L1311.5 627L1312.5 626.9L1313.5 626.8L1314.5 626.7L1315.5 626.6L1316.5 626.5L1317.5 626.4L1318.5 626.3L1319.5 626.2L1320.5 626.1L1321.5 626L1322.5 625.9L1323.5 625.8L1324.5 625.7L1325.5 625.6L1326.5 625.5L1327.5 625.4L1328.5 625.3L1329.5 625.2L1330.5 625.1L1331.5 625L1332.5 624.9L1333.5 624.8L1334.5 624.7L1335.5 624.6L1336.5 624.5L1337.5 624.4L1338.5 624.3L1339.5 624.1L1340.5 624L1341.5 623.9L1342.5 623.7L1343.5 623.6L1344.5 623.4L1345.5 623.3L1346.5 623.1L1347.5 622.9L1348.5 622.7L1349.5 622.6L1350.5 622.4L1351.5 622.2L1352.5 622L1353.5 621.9L1354.5 621.7L1355.5 621.5L1356.5 621.4L1357.5 621.2L1358.5 621L1359.5 620.9L1360.5 620.7L1361.5 620.5L1362.5 620.3L1363.5 620.2L1364.5 620L1365.5 619.8L1366.5 619.7L1367.5 619.5L1368.5 619.3L1369.5 619.1L1370.5 619L1371.5 618.8L1372.5 618.6L1373.5 618.4L1374.5 618.3L1375.5 618.1L1376.5 617.9L1377.5 617.8L1378.5 617.6L1379.5 617.4L1380.5 617.3L1381.5 617.1L1382.5 616.9L1383.5 616.8L1384.5 616.6L1385.5 616.4L1386.5 616.2L1387.5 616.1L1388.5 615.9L1389.5 615.7L1390.5 615.5L1391.5 615.3L1392.5 615.1L1393.5 614.9L1394.5 614.7L1395.5 614.5L1396.5 614.3L1397.5 614.1L1398.5 613.9L1399.5 613.7L1400.5 613.5L1401.5 613.3L1402.5 613.1L1403.5 612.9L1404.5 612.6L1405.5 612.4L1406.5 612.2L1407.5 612L1408.5 611.7L1409.5 611.5L1410.5 611.3L1411.5 611L1412.5 610.8L1413.5 610.6L1414.5 610.3L1415.5 610.1L1416.5 609.8L1417.5 609.6L1418.5 609.3L1419.5 609L1420.5 608.8L1421.5 608.5L1422.5 608.2L1423.5 607.9L1424.5 607.7L1425.5 607.4L1426.5 607.1L1427.5 606.7L1428.5 606.4L1429.5 606.1L1430.5 605.8L1431.5 605.5L1432.5 605.1L1433.5 604.8L1434.5 604.5L1435.5 604.1L1436.5 603.8L1437.5 603.4L1438.5 603.1L1439.5 602.7L1440.5 602.4L1441.5 602.1L1442.5 601.7L1443.5 601.4L1444.5 601L1445.5 600.7L1446.5 600.3L1447.5 599.9L1448.5 599.6L1449.5 599.2L1450.5 598.8L1451.5 598.3L1452.5 597.9L1453.5 597.4L1454.5 596.9L1455.5 596.4L1456.5 595.8L1457.5 595.3L1458.5 594.7L1459.5 594.1L1460.5 593.4L1461.5 592.8L1462.5 592.1L1463.5 591.5L1464.5 590.8L1465.5 590.1L1466.5 589.3L1467.5 588.4L1468.5 587.4L1469.5 586.3L1470.5 585.1L1471.5 583.8L1472.5 582.2L1473.5 580.4L1474.5 578.3L1475.5 576.4L1476.5 574.7L1477.5 573L1478.5 571.2L1479.5 569.3L1480.5 567.6L1481.5 565.8L1482.5 564.2L1483.5 562.5L1484.5 561L1485.5 559.4L1486.5 558L1487.5 556.6L1488.5 555.3L1489.5 554L1490.5 552.8L1491.5 551.7L1492.5 550.8L1493.5 549.9L1494.5 549.1L1495.5 548.3L1496.5 547.6L1497.5 547L1498.5 546.5L1499.5 546L1500.5 545.5L1501.5 545.1L1502.5 544.7L1503.5 544.4L1504.5 544.1L1505.5 543.9L1506.5 543.7L1507.5 543.6L1508.5 543.5L1509.5 543.5L1510.5 543.5L1511.5 543.5L1512.5 543.5L1513.5 543.5L1514.5 543.5L1515.5 543.5L1516.5 543.5L1517.5 543.5L1518.5 543.5L1519.5 543.5L1520.5 543.5L1521.5 543.5L1522.5 543.5L1523.5 543.5L1524.5 543.5L1525.5 543.5L1526.5 543.5L1527.5 543.5L1528.5 543.5L1529.5 543.5L1529.5 553.1L1528.5 553.1L1527.5 553.1L1526.5 553.1L1525.5 553.1L1524.5 553.1L1523.5 553.1L1522.5 553.1L1521.5 553.1L1520.5 553.3L1519.5 553.5L1518.5 553.8L1517.5 554.2L1516.5 554.6L1515.5 555.1L1514.5 555.7L1513.5 556.3L1512.5 557L1511.5 557.8L1510.5 558.7L1509.5 559.7L1508.5 560.8L1507.5 562.1L1506.5 563.5L1505.5 565L1504.5 566.5L1503.5 568L1502.5 569.6L1501.5 571.2L1500.5 573L1499.5 574.7L1498.5 576.5L1497.5 578.4L1496.5 580.3L1495.5 582.3L1494.5 584.1L1493.5 586L1492.5 587.8L1491.5 589.6L1490.5 591.3L1489.5 592.8L1488.5 594L1487.5 595.2L1486.5 596.2L1485.5 597.2L1484.5 598L1483.5 598.8L1482.5 599.5L1481.5 600.2L1480.5 600.8L1479.5 601.4L1478.5 602L1477.5 602.5L1476.5 603.1L1475.5 603.7L1474.5 604.2L1473.5 604.6L1472.5 605L1471.5 605.5L1470.5 605.9L1469.5 606.3L1468.5 606.6L1467.5 607L1466.5 607.4L1465.5 607.7L1464.5 608L1463.5 608.4L1462.5 608.7L1461.5 609L1460.5 609.3L1459.5 609.6L1458.5 609.9L1457.5 610.2L1456.5 610.5L1455.5 610.8L1454.5 611L1453.5 611.3L1452.5 611.6L1451.5 611.9L1450.5 612.2L1449.5 612.4L1448.5 612.8L1447.5 613.1L1446.5 613.4L1445.5 613.7L1444.5 614L1443.5 614.3L1442.5 614.6L1441.5 614.8L1440.5 615.1L1439.5 615.4L1438.5 615.7L1437.5 616L1436.5 616.3L1435.5 616.5L1434.5 616.8L1433.5 617.1L1432.5 617.3L1431.5 617.6L1430.5 617.8L1429.5 618.1L1428.5 618.3L1427.5 618.6L1426.5 618.8L1425.5 619L1424.5 619.2L1423.5 619.5L1422.5 619.7L1421.5 619.9L1420.5 620.1L1419.5 620.3L1418.5 620.5L1417.5 620.7L1416.5 620.9L1415.5 621.1L1414.5 621.3L1413.5 621.5L1412.5 621.7L1411.5 621.9L1410.5 622.1L1409.5 622.3L1408.5 622.5L1407.5 622.7L1406.5 622.9L1405.5 623.1L1404.5 623.3L1403.5 623.5L1402.5 623.7L1401.5 623.9L1400.5 624.1L1399.5 624.3L1398.5 624.4L1397.5 624.6L1396.5 624.8L1395.5 625L1394.5 625.2L1393.5 625.4L1392.5 625.6L1391.5 625.7L1390.5 625.9L1389.5 626.1L1388.5 626.2L1387.5 626.4L1386.5 626.6L1385.5 626.7L1384.5 626.9L1383.5 627.1L1382.5 627.2L1381.5 627.4L1380.5 627.6L1379.5 627.7L1378.5 627.9L1377.5 628.1L1376.5 628.2L1375.5 628.4L1374.5 628.6L1373.5 628.7L1372.5 628.9L1371.5 629.1L1370.5 629.2L1369.5 629.4L1368.5 629.6L1367.5 629.8L1366.5 629.9L1365.5 630.1L1364.5 630.3L1363.5 630.4L1362.5 630.6L1361.5 630.8L1360.5 630.9L1359.5 631.1L1358.5 631.3L1357.5 631.4L1356.5 631.6L1355.5 631.8L1354.5 631.9L1353.5 632.1L1352.5 632.3L1351.5 632.4L1350.5 632.6L1349.5 632.8L1348.5 632.9L1347.5 633.1L1346.5 633.2L1345.5 633.4L1344.5 633.5L1343.5 633.7L1342.5 633.8L1341.5 633.9L1340.5 634L1339.5 634.1L1338.5 634.3L1337.5 634.4L1336.5 634.5L1335.5 634.6L1334.5 634.6L1333.5 634.7L1332.5 634.8L1331.5 634.9L1330.5 635L1329.5 635.1L1328.5 635.2L1327.5 635.3L1326.5 635.4L1325.5 635.5L1324.5 635.6L1323.5 635.7L1322.5 635.8L1321.5 635.9L1320.5 636L1319.5 636.1L1318.5 636.2L1317.5 636.3L1316.5 636.4L1315.5 636.5L1314.5 636.6L1313.5 636.7L1312.5 636.8L1311.5 636.9L1310.5 637L1309.5 637.1L1308.5 637.2L1307.5 637.3L1306.5 637.3L1305.5 637.4L1304.5 637.5L1303.5 637.6L1302.5 637.6L1301.5 637.7L1300.5 637.8L1299.5 637.8L1298.5 637.9L1297.5 638L1296.5 638L1295.5 638.1L1294.5 638.2L1293.5 638.2L1292.5 638.3L1291.5 638.4L1290.5 638.4L1289.5 638.5L1288.5 638.6L1287.5 638.7L1286.5 638.7L1285.5 638.8L1284.5 638.9L1283.5 638.9L1282.5 639L1281.5 639.1L1280.5 639.2L1279.5 639.2L1278.5 639.3L1277.5 639.4L1276.5 639.4L1275.5 639.5L1274.5 639.6L1273.5 639.7L1272.5 639.7L1271.5 639.8L1270.5 639.9L1269.5 639.9L1268.5 640L1267.5 640.1L1266.5 640.1L1265.5 640.2L1264.5 640.3Z"/>
<path class="bo" d="M1264.5 631.8L1265.5 631.8L1266.5 631.7L1267.5 631.6L1268.5 631.5L1269.5 631.5L1270.5 631.4L1271.5 631.3L1272.5 631.3L1273.5 631.2L1274.5 631.1L1275.5 631L1276.5 631L1277.5 630.9L1278.5 630.8L1279.5 630.8L1280.5 630.7L1281.5 630.6L1282.5 630.5L1283.5 630.5L1284.5 630.4L1285.5 630.3L1286.5 630.3L1287.5 630.2L1288.5 630.1L1289.5 630L1290.5 630L1291.5 629.9L1292.5 629.8L1293.5 629.8L1294.5 629.7L1295.5 629.6L1296.5 629.6L1297.5 629.5L1298.5 629.4L1299.5 629.4L1300.5 629.3L1301.5 629.2L1302.5 629.2L1303.5 629.1L1304.5 629L1305.5 628.9L1306.5 628.8L1307.5 628.8L1308.5 628.7L1309.5 628.6L1310.5 628.5L1311.5 628.4L1312.5 628.3L1313.5 628.2L1314.5 628.1L1315.5 628L1316.5 627.9L1317.5 627.8L1318.5 627.7L1319.5 627.6L1320.5 627.5L1321.5 627.3L1322.5 627.2L1323.5 627.1L1324.5 627L1325.5 626.9L1326.5 626.9L1327.5 626.8L1328.5 626.7L1329.5 626.6L1330.5 626.5L1331.5 626.4L1332.5 626.3L1333.5 626.2L1334.5 626.1L1335.5 626L1336.5 625.9L1337.5 625.8L1338.5 625.7L1339.5 625.6L1340.5 625.4L1341.5 625.3L1342.5 625.2L1343.5 625L1344.5 624.9L1345.5 624.8L1346.5 624.6L1347.5 624.4L1348.5 624.3L1349.5 624.1L1350.5 623.9L1351.5 623.8L1352.5 623.6L1353.5 623.4L1354.5 623.2L1355.5 623.1L1356.5 622.9L1357.5 622.7L1358.5 622.6L1359.5 622.4L1360.5 622.2L1361.5 622.1L1362.5 621.9L1363.5 621.7L1364.5 621.6L1365.5 621.4L1366.5 621.2L1367.5 621L1368.5 620.9L1369.5 620.7L1370.5 620.5L1371.5 620.4L1372.5 620.2L1373.5 620L1374.5 619.8L1375.5 619.7L1376.5 619.5L1377.5 619.3L1378.5 619.2L1379.5 619L1380.5 618.8L1381.5 618.7L1382.5 618.5L1383.5 618.3L1384.5 618.2L1385.5 618L1386.5 617.8L1387.5 617.7L1388.5 617.5L1389.5 617.3L1390.5 617.1L1391.5 617L1392.5 616.8L1393.5 616.6L1394.5 616.4L1395.5 616.2L1396.5 616L1397.5 615.8L1398.5 615.6L1399.5 615.4L1400.5 615.2L1401.5 615L1402.5 614.8L1403.5 614.6L1404.5 614.4L1405.5 614.2L1406.5 614L1407.5 613.8L1408.5 613.6L1409.5 613.4L1410.5 613.2L1411.5 612.9L1412.5 612.7L1413.5 612.5L1414.5 612.3L1415.5 612.1L1416.5 611.9L1417.5 611.6L1418.5 611.4L1419.5 611.2L1420.5 610.9L1421.5 610.7L1422.5 610.5L1423.5 610.2L1424.5 610L1425.5 609.7L1426.5 609.5L1427.5 609.2L1428.5 608.9L1429.5 608.6L1430.5 608.4L1431.5 608.1L1432.5 607.8L1433.5 607.5L1434.5 607.2L1435.5 606.9L1436.5 606.6L1437.5 606.3L1438.5 605.9L1439.5 605.6L1440.5 605.3L1441.5 605L1442.5 604.7L1443.5 604.3L1444.5 604L1445.5 603.7L1446.5 603.4L1447.5 603.1L1448.5 602.7L1449.5 602.4L1450.5 602.1L1451.5 601.7L1452.5 601.4L1453.5 601.1L1454.5 600.7L1455.5 600.4L1456.5 600L1457.5 599.6L1458.5 599.2L1459.5 598.8L1460.5 598.4L1461.5 598L1462.5 597.5L1463.5 597.1L1464.5 596.6L1465.5 596.1L1466.5 595.5L1467.5 595L1468.5 594.5L1469.5 593.9L1470.5 593.3L1471.5 592.8L1472.5 592.2L1473.5 591.6L1474.5 590.9L1475.5 590.2L1476.5 589.4L1477.5 588.6L1478.5 587.6L1479.5 586.6L1480.5 585.5L1481.5 584.3L1482.5 582.8L1483.5 581.2L1484.5 579.4L1485.5 577.7L1486.5 575.9L1487.5 574.1L1488.5 572.2L1489.5 570.4L1490.5 568.5L1491.5 566.8L1492.5 565.1L1493.5 563.4L1494.5 561.8L1495.5 560.2L1496.5 558.8L1497.5 557.4L1498.5 556.1L1499.5 554.8L1500.5 553.6L1501.5 552.6L1502.5 551.6L1503.5 550.8L1504.5 550L1505.5 549.3L1506.5 548.7L1507.5 548.1L1508.5 547.5L1509.5 547.1L1510.5 546.6L1511.5 546.3L1512.5 546L1513.5 545.7L1514.5 545.4L1515.5 545.3L1516.5 545.2L1517.5 545.2L1518.5 545.2L1519.5 545.3L1520.5 545.3L1521.5 545.3L1522.5 545.3L1523.5 545.4L1524.5 545.4L1525.5 545.4L1526.5 545.4L1527.5 545.4L1528.5 545.4L1529.5 545.4L1529.5 551.2L1528.5 551.2L1527.5 551.2L1526.5 551.2L1525.5 551.2L1524.5 551.2L1523.5 551.2L1522.5 551.3L1521.5 551.3L1520.5 551.3L1519.5 551.3L1518.5 551.4L1517.5 551.4L1516.5 551.5L1515.5 551.6L1514.5 551.8L1513.5 552.1L1512.5 552.4L1511.5 552.8L1510.5 553.2L1509.5 553.7L1508.5 554.2L1507.5 554.7L1506.5 555.3L1505.5 556L1504.5 556.7L1503.5 557.5L1502.5 558.4L1501.5 559.3L1500.5 560.4L1499.5 561.6L1498.5 562.9L1497.5 564.3L1496.5 565.7L1495.5 567.1L1494.5 568.7L1493.5 570.3L1492.5 572L1491.5 573.7L1490.5 575.5L1489.5 577.4L1488.5 579.3L1487.5 581.1L1486.5 583L1485.5 584.7L1484.5 586.6L1483.5 588.3L1482.5 590L1481.5 591.4L1480.5 592.7L1479.5 593.8L1478.5 594.8L1477.5 595.8L1476.5 596.6L1475.5 597.4L1474.5 598.1L1473.5 598.8L1472.5 599.4L1471.5 600L1470.5 600.5L1469.5 601.1L1468.5 601.7L1467.5 602.2L1466.5 602.7L1465.5 603.3L1464.5 603.8L1463.5 604.3L1462.5 604.7L1461.5 605.2L1460.5 605.6L1459.5 606L1458.5 606.4L1457.5 606.8L1456.5 607.2L1455.5 607.6L1454.5 607.9L1453.5 608.3L1452.5 608.6L1451.5 608.9L1450.5 609.3L1449.5 609.6L1448.5 609.9L1447.5 610.3L1446.5 610.6L1445.5 610.9L1444.5 611.2L1443.5 611.5L1442.5 611.9L1441.5 612.2L1440.5 612.5L1439.5 612.8L1438.5 613.1L1437.5 613.5L1436.5 613.8L1435.5 614.1L1434.5 614.4L1433.5 614.7L1432.5 615L1431.5 615.3L1430.5 615.6L1429.5 615.8L1428.5 616.1L1427.5 616.4L1426.5 616.7L1425.5 616.9L1424.5 617.2L1423.5 617.4L1422.5 617.7L1421.5 617.9L1420.5 618.1L1419.5 618.4L1418.5 618.6L1417.5 618.8L1416.5 619.1L1415.5 619.3L1414.5 619.5L1413.5 619.7L1412.5 619.9L1411.5 620.1L1410.5 620.4L1409.5 620.6L1408.5 620.8L1407.5 621L1406.5 621.2L1405.5 621.4L1404.5 621.6L1403.5 621.8L1402.5 622L1401.5 622.2L1400.5 622.4L1399.5 622.6L1398.5 622.8L1397.5 623L1396.5 623.2L1395.5 623.4L1394.5 623.6L1393.5 623.8L1392.5 624L1391.5 624.2L1390.5 624.3L1389.5 624.5L1388.5 624.7L1387.5 624.9L1386.5 625L1385.5 625.2L1384.5 625.4L1383.5 625.5L1382.5 625.7L1381.5 625.9L1380.5 626L1379.5 626.2L1378.5 626.4L1377.5 626.5L1376.5 626.7L1375.5 626.9L1374.5 627L1373.5 627.2L1372.5 627.4L1371.5 627.6L1370.5 627.7L1369.5 627.9L1368.5 628.1L1367.5 628.2L1366.5 628.4L1365.5 628.6L1364.5 628.8L1363.5 628.9L1362.5 629.1L1361.5 629.3L1360.5 629.4L1359.5 629.6L1358.5 629.8L1357.5 629.9L1356.5 630.1L1355.5 630.3L1354.5 630.4L1353.5 630.6L1352.5 630.8L1351.5 631L1350.5 631.1L1349.5 631.3L1348.5 631.5L1347.5 631.6L1346.5 631.8L1345.5 632L1344.5 632.1L1343.5 632.2L1342.5 632.4L1341.5 632.5L1340.5 632.6L1339.5 632.8L1338.5 632.9L1337.5 633L1336.5 633.1L1335.5 633.2L1334.5 633.3L1333.5 633.4L1332.5 633.5L1331.5 633.6L1330.5 633.7L1329.5 633.8L1328.5 633.9L1327.5 634L1326.5 634.1L1325.5 634.1L1324.5 634.2L1323.5 634.3L1322.5 634.4L1321.5 634.5L1320.5 634.7L1319.5 634.8L1318.5 634.9L1317.5 635L1316.5 635.1L1315.5 635.2L1314.5 635.3L1313.5 635.4L1312.5 635.5L1311.5 635.6L1310.5 635.7L1309.5 635.8L1308.5 635.9L1307.5 636L1306.5 636L1305.5 636.1L1304.5 636.2L1303.5 636.3L1302.5 636.4L1301.5 636.4L1300.5 636.5L1299.5 636.6L1298.5 636.6L1297.5 636.7L1296.5 636.8L1295.5 636.8L1294.5 636.9L1293.5 637L1292.5 637L1291.5 637.1L1290.5 637.2L1289.5 637.2L1288.5 637.3L1287.5 637.4L1286.5 637.5L1285.5 637.5L1284.5 637.6L1283.5 637.7L1282.5 637.7L1281.5 637.8L1280.5 637.9L1279.5 638L1278.5 638L1277.5 638.1L1276.5 638.2L1275.5 638.2L1274.5 638.3L1273.5 638.4L1272.5 638.5L1271.5 638.5L1270.5 638.6L1269.5 638.7L1268.5 638.7L1267.5 638.8L1266.5 638.9L1265.5 639L1264.5 639Z"/>
<path class="bl" d="M1264.5 635.4L1265.5 635.4L1266.5 635.3L1267.5 635.2L1268.5 635.1L1269.5 635.1L1270.5 635L1271.5 634.9L1272.5 634.9L1273.5 634.8L1274.5 634.7L1275.5 634.6L1276.5 634.6L1277.5 634.5L1278.5 634.4L1279.5 634.4L1280.5 634.3L1281.5 634.2L1282.5 634.1L1283.5 634.1L1284.5 634L1285.5 633.9L1286.5 633.9L1287.5 633.8L1288.5 633.7L1289.5 633.6L1290.5 633.6L1291.5 633.5L1292.5 633.4L1293.5 633.4L1294.5 633.3L1295.5 633.2L1296.5 633.2L1297.5 633.1L1298.5 633L1299.5 633L1300.5 632.9L1301.5 632.8L1302.5 632.8L1303.5 632.7L1304.5 632.6L1305.5 632.5L1306.5 632.4L1307.5 632.4L1308.5 632.3L1309.5 632.2L1310.5 632.1L1311.5 632L1312.5 631.9L1313.5 631.8L1314.5 631.7L1315.5 631.6L1316.5 631.5L1317.5 631.4L1318.5 631.3L1319.5 631.2L1320.5 631.1L1321.5 630.9L1322.5 630.8L1323.5 630.7L1324.5 630.6L1325.5 630.5L1326.5 630.5L1327.5 630.4L1328.5 630.3L1329.5 630.2L1330.5 630.1L1331.5 630L1332.5 629.9L1333.5 629.8L1334.5 629.7L1335.5 629.6L1336.5 629.5L1337.5 629.4L1338.5 629.3L1339.5 629.2L1340.5 629L1341.5 628.9L1342.5 628.8L1343.5 628.6L1344.5 628.5L1345.5 628.4L1346.5 628.2L1347.5 628L1348.5 627.9L1349.5 627.7L1350.5 627.5L1351.5 627.4L1352.5 627.2L1353.5 627L1354.5 626.8L1355.5 626.7L1356.5 626.5L1357.5 626.3L1358.5 626.2L1359.5 626L1360.5 625.8L1361.5 625.7L1362.5 625.5L1363.5 625.3L1364.5 625.2L1365.5 625L1366.5 624.8L1367.5 624.6L1368.5 624.5L1369.5 624.3L1370.5 624.1L1371.5 624L1372.5 623.8L1373.5 623.6L1374.5 623.4L1375.5 623.3L1376.5 623.1L1377.5 622.9L1378.5 622.8L1379.5 622.6L1380.5 622.4L1381.5 622.3L1382.5 622.1L1383.5 621.9L1384.5 621.8L1385.5 621.6L1386.5 621.4L1387.5 621.3L1388.5 621.1L1389.5 620.9L1390.5 620.7L1391.5 620.6L1392.5 620.4L1393.5 620.2L1394.5 620L1395.5 619.8L1396.5 619.6L1397.5 619.4L1398.5 619.2L1399.5 619L1400.5 618.8L1401.5 618.6L1402.5 618.4L1403.5 618.2L1404.5 618L1405.5 617.8L1406.5 617.6L1407.5 617.4L1408.5 617.2L1409.5 617L1410.5 616.8L1411.5 616.5L1412.5 616.3L1413.5 616.1L1414.5 615.9L1415.5 615.7L1416.5 615.5L1417.5 615.2L1418.5 615L1419.5 614.8L1420.5 614.5L1421.5 614.3L1422.5 614.1L1423.5 613.8L1424.5 613.6L1425.5 613.3L1426.5 613.1L1427.5 612.8L1428.5 612.5L1429.5 612.2L1430.5 612L1431.5 611.7L1432.5 611.4L1433.5 611.1L1434.5 610.8L1435.5 610.5L1436.5 610.2L1437.5 609.9L1438.5 609.5L1439.5 609.2L1440.5 608.9L1441.5 608.6L1442.5 608.3L1443.5 607.9L1444.5 607.6L1445.5 607.3L1446.5 607L1447.5 606.7L1448.5 606.3L1449.5 606L1450.5 605.7L1451.5 605.3L1452.5 605L1453.5 604.7L1454.5 604.3L1455.5 604L1456.5 603.6L1457.5 603.2L1458.5 602.8L1459.5 602.4L1460.5 602L1461.5 601.6L1462.5 601.1L1463.5 600.7L1464.5 600.2L1465.5 599.7L1466.5 599.1L1467.5 598.6L1468.5 598.1L1469.5 597.5L1470.5 596.9L1471.5 596.4L1472.5 595.8L1473.5 595.2L1474.5 594.5L1475.5 593.8L1476.5 593L1477.5 592.2L1478.5 591.2L1479.5 590.2L1480.5 589.1L1481.5 587.9L1482.5 586.4L1483.5 584.8L1484.5 583L1485.5 581.2L1486.5 579.4L1487.5 577.6L1488.5 575.7L1489.5 573.9L1490.5 572L1491.5 570.2L1492.5 568.5L1493.5 566.9L1494.5 565.2L1495.5 563.7L1496.5 562.2L1497.5 560.8L1498.5 559.5L1499.5 558.2L1500.5 557L1501.5 556L1502.5 555L1503.5 554.2L1504.5 553.4L1505.5 552.6L1506.5 552L1507.5 551.4L1508.5 550.9L1509.5 550.4L1510.5 549.9L1511.5 549.5L1512.5 549.2L1513.5 548.9L1514.5 548.6L1515.5 548.4L1516.5 548.3L1517.5 548.3L1518.5 548.3L1519.5 548.3L1520.5 548.3L1521.5 548.3L1522.5 548.3L1523.5 548.3L1524.5 548.3L1525.5 548.3L1526.5 548.3L1527.5 548.3L1528.5 548.3L1529.5 548.3L1530.5 548.3L1531.5 548.3L1532.5 548.3L1533.5 548.3L1534.5 548.3L1535.5 548.3L1536.5 548.3L1537.5 548.3L1538.5 548.3L1539.5 548.3L1540.5 548.3L1541.5 548.3L1542.5 548.3L1543.5 548.3L1544.5 548.3L1545.5 548.3L1546.5 548.3L1547.5 548.3L1548.5 548.3L1549.5 548.3L1550.5 548.3L1551.5 548.3L1552.5 548.3L1553.5 548.3L1554.5 548.3L1555.5 548.3L1556.5 548.3L1557.5 548.3L1558.5 548.3L1559.5 548.3L1560.5 548.3L1561.5 548.3L1562.5 548.3L1563.5 548.3L1564.5 548.3L1565.5 548.3L1566.5 548.3L1567.5 548.3L1568.5 548.3L1569.5 548.3L1570.5 548.3L1571.5 548.3L1572.5 548.3L1573.5 548.3L1574.5 548.3L1575.5 548.3L1576.5 548.3L1577.5 548.3L1578.5 548.3L1579.5 548.3L1580.5 548.3L1581.5 548.3L1582.5 548.3L1583.5 548.3L1584.5 548.3L1585.5 548.3L1586.5 548.3L1587.5 548.3L1588.5 548.3L1589.5 548.3L1590.5 548.3L1591.5 548.3L1592.5 548.3L1593.5 548.3L1594.5 548.3L1595.5 548.3L1596.5 548.3L1597.5 548.3L1598.5 548.3L1599.5 548.3L1600.5 548.3L1601.5 548.3L1602.5 548.3L1603.5 548.3L1604.5 548.3L1605.5 548.3L1606.5 548.3L1607.5 548.3L1608.5 548.3L1609.5 548.3L1610.5 548.3L1611.5 548.3L1612.5 548.3L1613.5 548.3L1614.5 548.3L1615.5 548.3L1616.5 548.3L1617.5 548.3L1618.5 548.3L1619.5 548.3L1620.5 548.3L1621.5 548.3L1622.5 548.3L1623.5 548.3L1624.5 548.3L1625.5 548.3L1626.5 548.3L1627.5 548.3L1628.5 548.3L1629.5 548.3L1630.5 548.3L1631.5 548.3L1632.5 548.3L1633.5 548.3L1634.5 548.3L1635.5 548.3L1636.5 548.3L1637.5 548.3L1638.5 548.3L1639.5 548.3L1640.5 548.3L1641.5 548.3L1642.5 548.3L1643.5 548.3L1644.5 548.3L1645.5 548.3L1646.5 548.3L1647.5 548.3L1648.5 548.3L1649.5 548.3L1650.5 548.3L1651.5 548.3L1652.5 548.3L1653.5 548.3L1654.5 548.3L1655.5 548.3L1656.5 548.3L1657.5 548.3L1658.5 548.3L1659.5 548.3L1660.5 548.3L1661.5 548.3L1662.5 548.3L1663.5 548.3L1664.5 548.3L1665.5 548.3L1666.5 548.3L1667.5 548.3L1668.5 548.3"/>
<g class="lt"><path d="M1268 910.9V977.9"/><path d="M1272.2 954.8V1021.8"/><path d="M1277 866.1V933.6"/><path d="M1280.9 925.8V992.7"/><path d="M1285.9 865.1V932.5"/><path d="M1289.7 921.1V988.4"/><path d="M1294.7 868.9V936.2"/><path d="M1299.2 876.9V944.3"/><path d="M1303.9 910V977.5"/><path d="M1307.9 813V880.3"/><path d="M1312.8 889.1V956.5"/><path d="M1316.8 906.1V973.5"/><path d="M1321.8 871.7V940.3"/><path d="M1325.8 856.6V931.8"/><path d="M1328.8 901.2V988.1"/><path d="M1334 810.1V885.2"/><path d="M1338 861.5V929.2"/><path d="M1355.8 891.7V966.9"/><path d="M1361 871.7V940.3"/><path d="M1364.9 885.7V953.9"/><path d="M1369.9 880.5V949"/><path d="M1373.9 866.5V934.8"/><path d="M1378.9 920.9V989.3"/><path d="M1382.9 902.8V971.8"/><path d="M1387.7 908.6V977.6"/><path d="M1391.9 864.1V936.2"/><path d="M1396.1 897.1V966.3"/><path d="M1399.9 891.9V960.9"/><path d="M1404.8 923.9V993.3"/><path d="M1408.9 864.6V934.6"/><path d="M1413.8 899.2V969.5"/><path d="M1418 885.4V955.4"/><path d="M1422.8 903.1V972.8"/><path d="M1427 886.1V956.2"/><path d="M1432 903.3V973.4"/><path d="M1436 866.9V937.6"/><path d="M1440.8 926.1V996.3"/><path d="M1445 908.5V981.1"/><path d="M1448.7 889V959.8"/><path d="M1452.9 867.7V938.4"/><path d="M1458 890.6V962.2"/><path d="M1462 907V977.9"/><path d="M1466.9 865.2V936.5"/><path d="M1471.2 900.5V972.4"/><path d="M1475.9 918.4V990.4"/><path d="M1480.9 852.7V925.3"/><path d="M1485.1 860.7V933.4"/><path d="M1489.9 888V961.5"/><path d="M1492.9 859.4V934.4"/><path d="M1497.1 913.8V987"/><path d="M1501.9 871.4V943.6"/><path d="M1505.9 884V958"/><path d="M1511 908.3V982.5"/><path d="M1515.5 900.7V975.6"/><path d="M1520 890.2V964.9"/><path d="M1525 907V982.1"/><path d="M1529.1 823.8V899"/><path d="M1533.2 824.1V904.1"/><path d="M1538.1 854.8V931.2"/><path d="M1541.9 862.9V938.7"/><path d="M1546.1 824.1V914.9"/><path d="M1551.1 944.4V1021.6"/><path d="M1554.8 910.1V987.1"/><path d="M1559.9 855.2V932"/><path d="M1565 911.5V990.6"/><path d="M1569 915.8V995.5"/><path d="M1572.8 930.4V1015.6"/><path d="M1577 994.4V1075.1"/><path d="M1586.2 767.1V848.4"/><path d="M1594.8 901.6V984"/><path d="M1599 952.8V1036.3"/><path d="M1603.7 921V1004.9"/><path d="M1607.9 907.1V991.8"/><path d="M1612.9 839V924.3"/><path d="M1617 830.3V915.9"/><path d="M1622.1 847.5V935.3"/><path d="M1625.9 781.8V870.9"/><path d="M1630.4 788.6V884.1"/><path d="M1635.1 847V936.8"/><path d="M1639.1 850.1V940.4"/><path d="M1643.3 958.6V1050.6"/><path d="M1647.9 894.5V987.1"/><path d="M1652.4 874.4V968.5"/><path d="M1656.8 863.2V958.2"/><path d="M1661.8 835V931.6"/><path d="M1666 994.8V1102.8"/></g>
<g class="dk"><path d="M1268 929.4V959.3"/><path d="M1272.2 973.4V1003.2"/><path d="M1277 884.4V915.3"/><path d="M1280.9 944.5V974"/><path d="M1285.9 883.5V914.1"/><path d="M1289.7 939.5V970"/><path d="M1294.7 887.4V917.8"/><path d="M1299.2 895.2V925.9"/><path d="M1303.9 928.3V959.2"/><path d="M1307.9 831.4V861.8"/><path d="M1312.8 907.4V938.1"/><path d="M1316.8 924.4V955.2"/><path d="M1321.8 889.4V922.6"/><path d="M1325.8 871.5V916.9"/><path d="M1328.8 913.3V976"/><path d="M1334 825.1V870.2"/><path d="M1338 879.7V911.1"/><path d="M1355.8 906.6V952"/><path d="M1361 889.4V922.6"/><path d="M1364.9 903.6V936"/><path d="M1369.9 898.2V931.3"/><path d="M1373.9 884.4V916.9"/><path d="M1378.9 938.6V971.5"/><path d="M1382.9 920.3V954.3"/><path d="M1387.7 926.1V960.2"/><path d="M1391.9 880.2V920.1"/><path d="M1396.1 914.4V949"/><path d="M1399.9 909.4V943.5"/><path d="M1404.8 941.1V976"/><path d="M1408.9 881.5V917.6"/><path d="M1413.8 916.1V952.7"/><path d="M1418 902.4V938.5"/><path d="M1422.8 920.3V955.7"/><path d="M1427 903.1V939.3"/><path d="M1432 920.3V956.5"/><path d="M1436 883.5V920.9"/><path d="M1440.8 943V979.4"/><path d="M1445 924.4V965.2"/><path d="M1448.7 905.6V943.1"/><path d="M1452.9 884.4V921.8"/><path d="M1458 906.9V946"/><path d="M1462 923.6V961.3"/><path d="M1466.9 881.5V920.1"/><path d="M1471.2 916.6V956.3"/><path d="M1475.9 934.5V974.4"/><path d="M1480.9 868.5V909.4"/><path d="M1485.1 876.5V917.6"/><path d="M1489.9 903.6V946"/><path d="M1492.9 874.4V919.4"/><path d="M1497.1 929.4V971.4"/><path d="M1501.9 887.4V927.6"/><path d="M1505.9 899.4V942.6"/><path d="M1511 923.6V967.2"/><path d="M1515.5 915.8V960.5"/><path d="M1520 905.2V949.8"/><path d="M1525 921.9V967.2"/><path d="M1529.1 838.8V884"/><path d="M1533.2 837.6V890.5"/><path d="M1538.1 869.3V916.6"/><path d="M1541.9 877.7V923.9"/><path d="M1546.1 835.4V903.6"/><path d="M1551.1 958.7V1007.3"/><path d="M1554.8 924.4V972.7"/><path d="M1559.9 869.7V917.6"/><path d="M1565 925.3V976.9"/><path d="M1569 929.4V981.9"/><path d="M1572.8 942.8V1003.2"/><path d="M1577 1007.8V1061.7"/><path d="M1586.2 780.4V835.1"/><path d="M1594.8 914.6V971"/><path d="M1599 965.5V1023.6"/><path d="M1603.7 933.6V992.2"/><path d="M1607.9 919.6V979.4"/><path d="M1612.9 851.3V911.9"/><path d="M1617 842.6V903.6"/><path d="M1622.1 859.3V923.4"/><path d="M1625.9 793.4V859.3"/><path d="M1630.4 799.2V873.5"/><path d="M1635.1 858.5V925.3"/><path d="M1639.1 861.5V928.9"/><path d="M1643.3 969.7V1039.5"/><path d="M1647.9 905.6V976"/><path d="M1652.4 885.2V957.7"/><path d="M1656.8 873.9V947.5"/><path d="M1661.8 845.5V921.1"/><path d="M1666 1003.9V1093.7"/></g>
<path class="zl" d="M1248.3 922.4H1685.1"/>
<path class="th" d="M1248.3 380H1686.6"/>
<path d="M1686.2 382.5v14" stroke="#e2e2e2" stroke-width="0.8" fill="none"/>
<rect x="1685.7" y="379.3" width="2.1" height="3.4" fill="#000"/>
<path class="th" d="M1248.3 749.9H1686.6"/>
<path d="M1686.2 752.4v14" stroke="#e2e2e2" stroke-width="0.8" fill="none"/>
<rect x="1685.7" y="749.2" width="2.1" height="3.4" fill="#000"/>
<path class="sp" d="M1248.3 9.6V1120H1687.6"/>
<path class="sp" d="M1233.5 17.6H1248.3M1233.5 120.4H1248.3M1233.5 223.6H1248.3M1233.5 326.5H1248.3M1233.5 548.3H1248.3M1233.5 721.4H1248.3M1233.5 922.4H1248.3M1233.5 1099.4H1248.3M1304.3 1120V1135M1463.3 1120V1135M1622 1120V1135"/>
<text x="1218.9" y="33.4" text-anchor="end">30</text>
<text x="1218.9" y="135" text-anchor="end">20</text>
<text x="1218.9" y="238.2" text-anchor="end">10</text>
<text x="1218.9" y="341.1" text-anchor="end">0</text>
<text x="1218.9" y="562.9" text-anchor="end">0</text>
<text x="1218.9" y="736" text-anchor="end">−5</text>
<text x="1218.9" y="937" text-anchor="end">0</text>
<text x="1218.9" y="1114" text-anchor="end">−5</text>
<text x="1304.3" y="1180.3" text-anchor="middle">0.80</text>
<text x="1463.3" y="1180.3" text-anchor="middle">0.85</text>
<text x="1622" y="1180.3" text-anchor="middle">0.90</text>
<text x="1468.2" y="1237.6" text-anchor="middle">BJD−2460296</text>
<text x="1269.9" y="63.9" style="letter-spacing:0.9px"><tspan class="b">LCO 1.0m</tspan> <tspan class="i" dx="1.3">r</tspan></text>
</g>
<text transform="translate(34.3 196.3) rotate(-90)" text-anchor="middle">relative flux</text>
<text transform="translate(83.8 199.8) rotate(-90)" text-anchor="middle">[ppt]</text>
<text transform="translate(37 568.7) rotate(-90)" text-anchor="middle">de-trended</text>
<text transform="translate(83.8 570) rotate(-90)" text-anchor="middle">[ppt]</text>
<text transform="translate(38 939.4) rotate(-90)" text-anchor="middle">residuals</text>
<text transform="translate(83.8 938.6) rotate(-90)" text-anchor="middle">[ppt]</text>
</svg></body></html>
